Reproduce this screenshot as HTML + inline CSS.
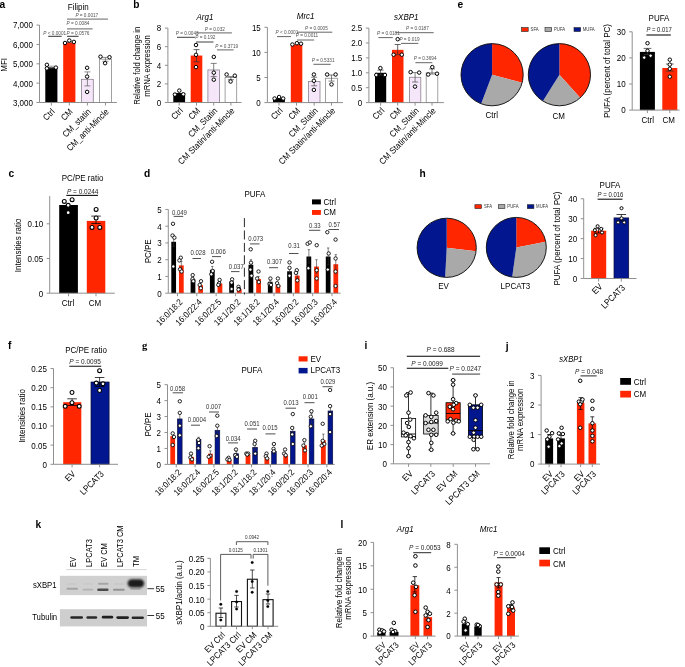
<!DOCTYPE html>
<html><head><meta charset="utf-8"><style>
html,body{margin:0;padding:0;background:#fff;overflow:hidden;}
svg{display:block;font-family:"Liberation Sans",sans-serif;will-change:transform;}
</style></head><body>
<svg width="685" height="667" viewBox="0 0 685 667">
<rect width="685" height="667" fill="#fff"/>
<text transform="translate(-0.4 8.2) scale(0.95 1)" font-size="10.74" font-weight="bold" fill="#000">a</text>
<text transform="translate(78.2 10.3) scale(0.9 1)" font-size="8.89" text-anchor="middle">Filipin</text>
<line x1="39.5" y1="25.1" x2="39.5" y2="102.5" stroke="#8a8a8a" stroke-width="0.95"/>
<line x1="36.5" y1="25.1" x2="39.5" y2="25.1" stroke="#8a8a8a" stroke-width="0.95"/>
<text transform="translate(32.9 28.46) scale(0.9 1)" font-size="8.89" text-anchor="end">7,000</text>
<line x1="36.5" y1="44.45" x2="39.5" y2="44.45" stroke="#8a8a8a" stroke-width="0.95"/>
<text transform="translate(32.9 47.81) scale(0.9 1)" font-size="8.89" text-anchor="end">6,000</text>
<line x1="36.5" y1="63.8" x2="39.5" y2="63.8" stroke="#8a8a8a" stroke-width="0.95"/>
<text transform="translate(32.9 67.16) scale(0.9 1)" font-size="8.89" text-anchor="end">5,000</text>
<line x1="36.5" y1="83.15" x2="39.5" y2="83.15" stroke="#8a8a8a" stroke-width="0.95"/>
<text transform="translate(32.9 86.51) scale(0.9 1)" font-size="8.89" text-anchor="end">4,000</text>
<line x1="36.5" y1="102.5" x2="39.5" y2="102.5" stroke="#8a8a8a" stroke-width="0.95"/>
<text transform="translate(32.9 105.86) scale(0.9 1)" font-size="8.89" text-anchor="end">3,000</text>
<text transform="translate(6.8 64.8) rotate(-90) scale(0.9 1)" font-size="8.89" text-anchor="middle">MFI</text>
<rect x="45.3" y="67.2" width="12.1" height="35.3" fill="#000"/>
<rect x="63.2" y="42.1" width="12.2" height="60.4" fill="#ff2600"/>
<rect x="81.5" y="79.3" width="11.8" height="23.2" fill="#f5e6fa" stroke="#8c7f8e" stroke-width="0.8"/>
<rect x="99.5" y="59.2" width="11.9" height="43.3" fill="#fff" stroke="#8a8a8a" stroke-width="0.8"/>
<line x1="39.5" y1="102.5" x2="116.9" y2="102.5" stroke="#8a8a8a" stroke-width="0.95"/>
<line x1="51.35" y1="102.5" x2="51.35" y2="105.5" stroke="#8a8a8a" stroke-width="0.95"/>
<line x1="69.3" y1="102.5" x2="69.3" y2="105.5" stroke="#8a8a8a" stroke-width="0.95"/>
<line x1="87.4" y1="102.5" x2="87.4" y2="105.5" stroke="#8a8a8a" stroke-width="0.95"/>
<line x1="105.45" y1="102.5" x2="105.45" y2="105.5" stroke="#8a8a8a" stroke-width="0.95"/>
<line x1="51.35" y1="66.2" x2="51.35" y2="67.8" stroke="#888" stroke-width="0.75"/>
<line x1="48.35" y1="66.2" x2="54.35" y2="66.2" stroke="#888" stroke-width="0.75"/>
<line x1="48.35" y1="67.8" x2="54.35" y2="67.8" stroke="#888" stroke-width="0.75"/>
<line x1="69.3" y1="41.3" x2="69.3" y2="42.6" stroke="#888" stroke-width="0.75"/>
<line x1="66.3" y1="41.3" x2="72.3" y2="41.3" stroke="#888" stroke-width="0.75"/>
<line x1="66.3" y1="42.6" x2="72.3" y2="42.6" stroke="#888" stroke-width="0.75"/>
<line x1="87.4" y1="71.9" x2="87.4" y2="85.9" stroke="#666" stroke-width="0.75"/>
<line x1="84.4" y1="71.9" x2="90.4" y2="71.9" stroke="#666" stroke-width="0.75"/>
<line x1="84.4" y1="85.9" x2="90.4" y2="85.9" stroke="#666" stroke-width="0.75"/>
<line x1="105.45" y1="57.4" x2="105.45" y2="61.3" stroke="#666" stroke-width="0.75"/>
<line x1="102.45" y1="57.4" x2="108.45" y2="57.4" stroke="#666" stroke-width="0.75"/>
<line x1="102.45" y1="61.3" x2="108.45" y2="61.3" stroke="#666" stroke-width="0.75"/>
<circle cx="46.9" cy="64.8" r="1.75" fill="#fff" stroke="#000" stroke-width="1.0"/>
<circle cx="46.9" cy="68.4" r="1.75" fill="#fff" stroke="#000" stroke-width="1.0"/>
<circle cx="55.9" cy="67.6" r="1.75" fill="#fff" stroke="#000" stroke-width="1.0"/>
<circle cx="65" cy="43" r="1.75" fill="#fff" stroke="#000" stroke-width="1.0"/>
<circle cx="69.3" cy="40.5" r="1.75" fill="#fff" stroke="#000" stroke-width="1.0"/>
<circle cx="73.9" cy="41.9" r="1.75" fill="#fff" stroke="#000" stroke-width="1.0"/>
<circle cx="87.1" cy="67.8" r="1.75" fill="#fff" stroke="#000" stroke-width="1.0"/>
<circle cx="87.1" cy="76.6" r="1.75" fill="#fff" stroke="#000" stroke-width="1.0"/>
<circle cx="87.1" cy="91.9" r="1.75" fill="#fff" stroke="#000" stroke-width="1.0"/>
<circle cx="100.5" cy="56.7" r="1.75" fill="#fff" stroke="#000" stroke-width="1.0"/>
<circle cx="109.5" cy="57.2" r="1.75" fill="#fff" stroke="#000" stroke-width="1.0"/>
<circle cx="105.1" cy="63.2" r="1.75" fill="#fff" stroke="#000" stroke-width="1.0"/>
<line x1="48.2" y1="36.3" x2="61.7" y2="36.3" stroke="#1a1a1a" stroke-width="0.9"/>
<text transform="translate(43.3 34.7) scale(0.9 1)" font-size="5.22" fill="#505050"><tspan font-style="italic">P</tspan> &lt; 0.0001</text>
<line x1="67" y1="36.3" x2="78.5" y2="36.3" stroke="#1a1a1a" stroke-width="0.9"/>
<text transform="translate(66.6 34.7) scale(0.9 1)" font-size="5.22" fill="#505050"><tspan font-style="italic">P</tspan> = 0.0576</text>
<line x1="67" y1="28.9" x2="92.6" y2="28.9" stroke="#555" stroke-width="0.9"/>
<text transform="translate(66.6 24.9) scale(0.9 1)" font-size="5.22" fill="#505050"><tspan font-style="italic">P</tspan> = 0.0084</text>
<line x1="67" y1="19.1" x2="108" y2="19.1" stroke="#555" stroke-width="0.9"/>
<text transform="translate(75.4 17.1) scale(0.9 1)" font-size="5.22" fill="#505050"><tspan font-style="italic">P</tspan> = 0.0017</text>
<text transform="translate(55.35 112.3) rotate(-45) scale(0.9 1)" font-size="8.89" text-anchor="end">Ctrl</text>
<text transform="translate(73.3 112.3) rotate(-45) scale(0.9 1)" font-size="8.89" text-anchor="end">CM</text>
<text transform="translate(91.4 112.3) rotate(-45) scale(0.9 1)" font-size="8.89" text-anchor="end">CM_statin</text>
<text transform="translate(109.45 112.3) rotate(-45) scale(0.9 1)" font-size="8.89" text-anchor="end">CM_anti-Mincle</text>
<text transform="translate(133.2 7.8) scale(0.95 1)" font-size="10.74" font-weight="bold" fill="#000">b</text>
<text transform="translate(204.9 19.8) scale(0.9 1)" font-size="8.89" text-anchor="middle" font-style="italic">Arg1</text>
<line x1="167.9" y1="28.1" x2="167.9" y2="102.5" stroke="#8a8a8a" stroke-width="0.95"/>
<line x1="164.9" y1="28.1" x2="167.9" y2="28.1" stroke="#8a8a8a" stroke-width="0.95"/>
<text transform="translate(161.3 31.46) scale(0.9 1)" font-size="8.89" text-anchor="end">8</text>
<line x1="164.9" y1="46.7" x2="167.9" y2="46.7" stroke="#8a8a8a" stroke-width="0.95"/>
<text transform="translate(161.3 50.06) scale(0.9 1)" font-size="8.89" text-anchor="end">6</text>
<line x1="164.9" y1="65.3" x2="167.9" y2="65.3" stroke="#8a8a8a" stroke-width="0.95"/>
<text transform="translate(161.3 68.66) scale(0.9 1)" font-size="8.89" text-anchor="end">4</text>
<line x1="164.9" y1="83.9" x2="167.9" y2="83.9" stroke="#8a8a8a" stroke-width="0.95"/>
<text transform="translate(161.3 87.26) scale(0.9 1)" font-size="8.89" text-anchor="end">2</text>
<line x1="164.9" y1="102.5" x2="167.9" y2="102.5" stroke="#8a8a8a" stroke-width="0.95"/>
<text transform="translate(161.3 105.86) scale(0.9 1)" font-size="8.89" text-anchor="end">0</text>
<text transform="translate(139.6 65.7) rotate(-90) scale(0.9 1)" font-size="8.58" text-anchor="middle">Relative fold change in</text>
<text transform="translate(149.9 66) rotate(-90) scale(0.9 1)" font-size="8.56" text-anchor="middle">mRNA expression</text>
<rect x="173.3" y="92.92" width="11.8" height="9.58" fill="#000"/>
<rect x="190.7" y="55.53" width="11.6" height="46.97" fill="#ff2600"/>
<rect x="207.9" y="69.95" width="11.6" height="32.55" fill="#f5e6fa" stroke="#8c7f8e" stroke-width="0.8"/>
<rect x="225.1" y="77.39" width="11.6" height="25.11" fill="#fff" stroke="#8a8a8a" stroke-width="0.8"/>
<line x1="167.9" y1="102.5" x2="241.5" y2="102.5" stroke="#8a8a8a" stroke-width="0.95"/>
<line x1="179.2" y1="102.5" x2="179.2" y2="105.5" stroke="#8a8a8a" stroke-width="0.95"/>
<line x1="196.5" y1="102.5" x2="196.5" y2="105.5" stroke="#8a8a8a" stroke-width="0.95"/>
<line x1="213.7" y1="102.5" x2="213.7" y2="105.5" stroke="#8a8a8a" stroke-width="0.95"/>
<line x1="230.9" y1="102.5" x2="230.9" y2="105.5" stroke="#8a8a8a" stroke-width="0.95"/>
<line x1="196.5" y1="49.6" x2="196.5" y2="61.8" stroke="#333" stroke-width="0.75"/>
<line x1="193.5" y1="49.6" x2="199.5" y2="49.6" stroke="#333" stroke-width="0.75"/>
<line x1="193.5" y1="61.8" x2="199.5" y2="61.8" stroke="#333" stroke-width="0.75"/>
<line x1="213.7" y1="63.4" x2="213.7" y2="76.6" stroke="#555" stroke-width="0.75"/>
<line x1="210.7" y1="63.4" x2="216.7" y2="63.4" stroke="#555" stroke-width="0.75"/>
<line x1="210.7" y1="76.6" x2="216.7" y2="76.6" stroke="#555" stroke-width="0.75"/>
<line x1="230.9" y1="76.6" x2="230.9" y2="79.7" stroke="#555" stroke-width="0.75"/>
<line x1="227.9" y1="76.6" x2="233.9" y2="76.6" stroke="#555" stroke-width="0.75"/>
<line x1="227.9" y1="79.7" x2="233.9" y2="79.7" stroke="#555" stroke-width="0.75"/>
<circle cx="174.9" cy="94.6" r="1.75" fill="#fff" stroke="#000" stroke-width="1.0"/>
<circle cx="179.3" cy="90.6" r="1.75" fill="#fff" stroke="#000" stroke-width="1.0"/>
<circle cx="183.3" cy="94.3" r="1.75" fill="#fff" stroke="#000" stroke-width="1.0"/>
<circle cx="196" cy="45" r="1.75" fill="#fff" stroke="#000" stroke-width="1.0"/>
<circle cx="196" cy="54.8" r="1.75" fill="#fff" stroke="#000" stroke-width="1.0"/>
<circle cx="196" cy="67.1" r="1.75" fill="#fff" stroke="#000" stroke-width="1.0"/>
<circle cx="213.8" cy="56.9" r="1.75" fill="#fff" stroke="#000" stroke-width="1.0"/>
<circle cx="213.8" cy="72.7" r="1.75" fill="#fff" stroke="#000" stroke-width="1.0"/>
<circle cx="213.8" cy="79.7" r="1.75" fill="#fff" stroke="#000" stroke-width="1.0"/>
<circle cx="226.6" cy="74.5" r="1.75" fill="#fff" stroke="#000" stroke-width="1.0"/>
<circle cx="230.6" cy="81.5" r="1.75" fill="#fff" stroke="#000" stroke-width="1.0"/>
<circle cx="234.8" cy="75.7" r="1.75" fill="#fff" stroke="#000" stroke-width="1.0"/>
<line x1="177" y1="37.3" x2="195" y2="37.3" stroke="#2a2a2a" stroke-width="0.9"/>
<text transform="translate(175.8 34.9) scale(0.9 1)" font-size="5.22" fill="#505050"><tspan font-style="italic">P</tspan> = 0.0043</text>
<line x1="196" y1="32.9" x2="231.9" y2="32.9" stroke="#555" stroke-width="0.9"/>
<text transform="translate(204.7 30.6) scale(0.9 1)" font-size="5.22" fill="#505050"><tspan font-style="italic">P</tspan> = 0.032</text>
<line x1="196" y1="42" x2="213.5" y2="42" stroke="#2a2a2a" stroke-width="0.9"/>
<text transform="translate(195.2 39.4) scale(0.9 1)" font-size="5.22" fill="#505050"><tspan font-style="italic">P</tspan> = 0.192</text>
<line x1="217" y1="49.9" x2="233.6" y2="49.9" stroke="#555" stroke-width="0.9"/>
<text transform="translate(215.3 47.6) scale(0.9 1)" font-size="5.22" fill="#505050"><tspan font-style="italic">P</tspan> = 0.3719</text>
<text transform="translate(183.5 111.3) rotate(-45) scale(0.9 1)" font-size="8.89" text-anchor="end">Ctrl</text>
<text transform="translate(200.8 111.3) rotate(-45) scale(0.9 1)" font-size="8.89" text-anchor="end">CM</text>
<text transform="translate(218 111.3) rotate(-45) scale(0.9 1)" font-size="8.89" text-anchor="end">CM_Statin</text>
<text transform="translate(235.2 111.3) rotate(-45) scale(0.9 1)" font-size="8.89" text-anchor="end">CM Statin/anti-Mincle</text>
<text transform="translate(305.6 19) scale(0.9 1)" font-size="8.89" text-anchor="middle" font-style="italic">Mrc1</text>
<line x1="267.4" y1="27.3" x2="267.4" y2="102.6" stroke="#8a8a8a" stroke-width="0.95"/>
<line x1="264.4" y1="27.3" x2="267.4" y2="27.3" stroke="#8a8a8a" stroke-width="0.95"/>
<text transform="translate(260.8 30.66) scale(0.9 1)" font-size="8.89" text-anchor="end">15</text>
<line x1="264.4" y1="52.4" x2="267.4" y2="52.4" stroke="#8a8a8a" stroke-width="0.95"/>
<text transform="translate(260.8 55.76) scale(0.9 1)" font-size="8.89" text-anchor="end">10</text>
<line x1="264.4" y1="77.5" x2="267.4" y2="77.5" stroke="#8a8a8a" stroke-width="0.95"/>
<text transform="translate(260.8 80.86) scale(0.9 1)" font-size="8.89" text-anchor="end">5</text>
<line x1="264.4" y1="102.6" x2="267.4" y2="102.6" stroke="#8a8a8a" stroke-width="0.95"/>
<text transform="translate(260.8 105.96) scale(0.9 1)" font-size="8.89" text-anchor="end">0</text>
<rect x="273" y="98.08" width="11.9" height="4.52" fill="#000"/>
<rect x="290.8" y="44.37" width="11.5" height="58.23" fill="#ff2600"/>
<rect x="308.5" y="81.52" width="11.5" height="21.08" fill="#f5e6fa" stroke="#8c7f8e" stroke-width="0.8"/>
<rect x="325.5" y="78.25" width="12" height="24.35" fill="#fff" stroke="#8a8a8a" stroke-width="0.8"/>
<line x1="267.4" y1="102.6" x2="343" y2="102.6" stroke="#8a8a8a" stroke-width="0.95"/>
<line x1="279" y1="102.6" x2="279" y2="105.6" stroke="#8a8a8a" stroke-width="0.95"/>
<line x1="296.5" y1="102.6" x2="296.5" y2="105.6" stroke="#8a8a8a" stroke-width="0.95"/>
<line x1="314.2" y1="102.6" x2="314.2" y2="105.6" stroke="#8a8a8a" stroke-width="0.95"/>
<line x1="331.5" y1="102.6" x2="331.5" y2="105.6" stroke="#8a8a8a" stroke-width="0.95"/>
<line x1="314.2" y1="77.2" x2="314.2" y2="85.8" stroke="#555" stroke-width="0.75"/>
<line x1="311.2" y1="77.2" x2="317.2" y2="77.2" stroke="#555" stroke-width="0.75"/>
<line x1="311.2" y1="85.8" x2="317.2" y2="85.8" stroke="#555" stroke-width="0.75"/>
<line x1="331.5" y1="75" x2="331.5" y2="81.1" stroke="#555" stroke-width="0.75"/>
<line x1="328.5" y1="75" x2="334.5" y2="75" stroke="#555" stroke-width="0.75"/>
<line x1="328.5" y1="81.1" x2="334.5" y2="81.1" stroke="#555" stroke-width="0.75"/>
<circle cx="274.6" cy="98.5" r="1.75" fill="#fff" stroke="#000" stroke-width="1.0"/>
<circle cx="279.1" cy="97" r="1.75" fill="#fff" stroke="#000" stroke-width="1.0"/>
<circle cx="283.2" cy="98.5" r="1.75" fill="#fff" stroke="#000" stroke-width="1.0"/>
<circle cx="292.4" cy="44.5" r="1.75" fill="#fff" stroke="#000" stroke-width="1.0"/>
<circle cx="296.9" cy="43.2" r="1.75" fill="#fff" stroke="#000" stroke-width="1.0"/>
<circle cx="301" cy="43.7" r="1.75" fill="#fff" stroke="#000" stroke-width="1.0"/>
<circle cx="313.9" cy="74.5" r="1.75" fill="#fff" stroke="#000" stroke-width="1.0"/>
<circle cx="313.9" cy="80.8" r="1.75" fill="#fff" stroke="#000" stroke-width="1.0"/>
<circle cx="313.9" cy="89.9" r="1.75" fill="#fff" stroke="#000" stroke-width="1.0"/>
<circle cx="327.1" cy="74.5" r="1.75" fill="#fff" stroke="#000" stroke-width="1.0"/>
<circle cx="335.6" cy="74.5" r="1.75" fill="#fff" stroke="#000" stroke-width="1.0"/>
<circle cx="331.5" cy="84.4" r="1.75" fill="#fff" stroke="#000" stroke-width="1.0"/>
<line x1="277" y1="36.6" x2="291" y2="36.6" stroke="#555" stroke-width="0.9"/>
<text transform="translate(275.5 34.4) scale(0.9 1)" font-size="5.22" fill="#505050"><tspan font-style="italic">P</tspan> &lt; 0.0001</text>
<line x1="297" y1="32.2" x2="332.3" y2="32.2" stroke="#555" stroke-width="0.9"/>
<text transform="translate(305 29.9) scale(0.9 1)" font-size="5.22" fill="#505050"><tspan font-style="italic">P</tspan> = 0.0005</text>
<line x1="297" y1="40" x2="314.2" y2="40" stroke="#555" stroke-width="0.9"/>
<text transform="translate(295.7 37.4) scale(0.9 1)" font-size="5.22" fill="#505050"><tspan font-style="italic">P</tspan> = 0.0011</text>
<line x1="313.4" y1="64.3" x2="330.7" y2="64.3" stroke="#555" stroke-width="0.9"/>
<text transform="translate(311.7 62) scale(0.9 1)" font-size="5.22" fill="#505050"><tspan font-style="italic">P</tspan> = 0.5331</text>
<text transform="translate(283.3 111.3) rotate(-45) scale(0.9 1)" font-size="8.89" text-anchor="end">Ctrl</text>
<text transform="translate(300.8 111.3) rotate(-45) scale(0.9 1)" font-size="8.89" text-anchor="end">CM</text>
<text transform="translate(318.5 111.3) rotate(-45) scale(0.9 1)" font-size="8.89" text-anchor="end">CM_Statin</text>
<text transform="translate(335.8 111.3) rotate(-45) scale(0.9 1)" font-size="8.89" text-anchor="end">CM Statin/anti-Mincle</text>
<text transform="translate(406.3 19.6) scale(0.9 1)" font-size="8.89" text-anchor="middle" font-style="italic">sXBP1</text>
<line x1="368.9" y1="28.1" x2="368.9" y2="102.6" stroke="#8a8a8a" stroke-width="0.95"/>
<line x1="365.9" y1="28.1" x2="368.9" y2="28.1" stroke="#8a8a8a" stroke-width="0.95"/>
<text transform="translate(362.3 31.46) scale(0.9 1)" font-size="8.89" text-anchor="end">2.5</text>
<line x1="365.9" y1="43" x2="368.9" y2="43" stroke="#8a8a8a" stroke-width="0.95"/>
<text transform="translate(362.3 46.36) scale(0.9 1)" font-size="8.89" text-anchor="end">2.0</text>
<line x1="365.9" y1="57.9" x2="368.9" y2="57.9" stroke="#8a8a8a" stroke-width="0.95"/>
<text transform="translate(362.3 61.26) scale(0.9 1)" font-size="8.89" text-anchor="end">1.5</text>
<line x1="365.9" y1="72.8" x2="368.9" y2="72.8" stroke="#8a8a8a" stroke-width="0.95"/>
<text transform="translate(362.3 76.16) scale(0.9 1)" font-size="8.89" text-anchor="end">1.0</text>
<line x1="365.9" y1="87.7" x2="368.9" y2="87.7" stroke="#8a8a8a" stroke-width="0.95"/>
<text transform="translate(362.3 91.06) scale(0.9 1)" font-size="8.89" text-anchor="end">0.5</text>
<line x1="365.9" y1="102.6" x2="368.9" y2="102.6" stroke="#8a8a8a" stroke-width="0.95"/>
<text transform="translate(362.3 105.96) scale(0.9 1)" font-size="8.89" text-anchor="end">0</text>
<rect x="375" y="72.8" width="11.2" height="29.8" fill="#000"/>
<rect x="392" y="49.85" width="11.5" height="52.75" fill="#ff2600"/>
<rect x="409.4" y="77.27" width="11.4" height="25.33" fill="#f5e6fa" stroke="#8c7f8e" stroke-width="0.8"/>
<rect x="426.2" y="72.8" width="11.6" height="29.8" fill="#fff" stroke="#8a8a8a" stroke-width="0.8"/>
<line x1="368.9" y1="102.6" x2="443.9" y2="102.6" stroke="#8a8a8a" stroke-width="0.95"/>
<line x1="380.6" y1="102.6" x2="380.6" y2="105.6" stroke="#8a8a8a" stroke-width="0.95"/>
<line x1="397.7" y1="102.6" x2="397.7" y2="105.6" stroke="#8a8a8a" stroke-width="0.95"/>
<line x1="415.1" y1="102.6" x2="415.1" y2="105.6" stroke="#8a8a8a" stroke-width="0.95"/>
<line x1="432" y1="102.6" x2="432" y2="105.6" stroke="#8a8a8a" stroke-width="0.95"/>
<line x1="380.6" y1="70.1" x2="380.6" y2="75" stroke="#333" stroke-width="0.75"/>
<line x1="377.6" y1="70.1" x2="383.6" y2="70.1" stroke="#333" stroke-width="0.75"/>
<line x1="377.6" y1="75" x2="383.6" y2="75" stroke="#333" stroke-width="0.75"/>
<line x1="397.7" y1="44.5" x2="397.7" y2="54.7" stroke="#333" stroke-width="0.75"/>
<line x1="394.7" y1="44.5" x2="400.7" y2="44.5" stroke="#333" stroke-width="0.75"/>
<line x1="394.7" y1="54.7" x2="400.7" y2="54.7" stroke="#333" stroke-width="0.75"/>
<line x1="415.1" y1="72.6" x2="415.1" y2="82" stroke="#555" stroke-width="0.75"/>
<line x1="412.1" y1="72.6" x2="418.1" y2="72.6" stroke="#555" stroke-width="0.75"/>
<line x1="412.1" y1="82" x2="418.1" y2="82" stroke="#555" stroke-width="0.75"/>
<line x1="432" y1="68.9" x2="432" y2="74" stroke="#555" stroke-width="0.75"/>
<line x1="429" y1="68.9" x2="435" y2="68.9" stroke="#555" stroke-width="0.75"/>
<line x1="429" y1="74" x2="435" y2="74" stroke="#555" stroke-width="0.75"/>
<circle cx="380.4" cy="68.1" r="1.75" fill="#fff" stroke="#000" stroke-width="1.0"/>
<circle cx="376.3" cy="75" r="1.75" fill="#fff" stroke="#000" stroke-width="1.0"/>
<circle cx="384.9" cy="75" r="1.75" fill="#fff" stroke="#000" stroke-width="1.0"/>
<circle cx="397.7" cy="39.2" r="1.75" fill="#fff" stroke="#000" stroke-width="1.0"/>
<circle cx="393.6" cy="54.7" r="1.75" fill="#fff" stroke="#000" stroke-width="1.0"/>
<circle cx="401.8" cy="54.7" r="1.75" fill="#fff" stroke="#000" stroke-width="1.0"/>
<circle cx="410.6" cy="72.1" r="1.75" fill="#fff" stroke="#000" stroke-width="1.0"/>
<circle cx="419.2" cy="72.6" r="1.75" fill="#fff" stroke="#000" stroke-width="1.0"/>
<circle cx="415" cy="86.6" r="1.75" fill="#fff" stroke="#000" stroke-width="1.0"/>
<circle cx="432.3" cy="67.1" r="1.75" fill="#fff" stroke="#000" stroke-width="1.0"/>
<circle cx="428.2" cy="74.5" r="1.75" fill="#fff" stroke="#000" stroke-width="1.0"/>
<circle cx="437" cy="73.7" r="1.75" fill="#fff" stroke="#000" stroke-width="1.0"/>
<line x1="378.4" y1="37.6" x2="392.8" y2="37.6" stroke="#555" stroke-width="0.9"/>
<text transform="translate(377 35) scale(0.9 1)" font-size="5.22" fill="#505050"><tspan font-style="italic">P</tspan> = 0.0181</text>
<line x1="396" y1="32.7" x2="433.7" y2="32.7" stroke="#555" stroke-width="0.9"/>
<text transform="translate(406 30.4) scale(0.9 1)" font-size="5.22" fill="#505050"><tspan font-style="italic">P</tspan> = 0.0187</text>
<line x1="401" y1="43.4" x2="418.3" y2="43.4" stroke="#555" stroke-width="0.9"/>
<text transform="translate(399.4 40.9) scale(0.9 1)" font-size="5.22" fill="#505050"><tspan font-style="italic">P</tspan> = 0.019</text>
<line x1="415.4" y1="62.7" x2="432.3" y2="62.7" stroke="#555" stroke-width="0.9"/>
<text transform="translate(413.7 60.1) scale(0.9 1)" font-size="5.22" fill="#505050"><tspan font-style="italic">P</tspan> = 0.3694</text>
<text transform="translate(384.9 111.3) rotate(-45) scale(0.9 1)" font-size="8.89" text-anchor="end">Ctrl</text>
<text transform="translate(402 111.3) rotate(-45) scale(0.9 1)" font-size="8.89" text-anchor="end">CM</text>
<text transform="translate(419.4 111.3) rotate(-45) scale(0.9 1)" font-size="8.89" text-anchor="end">CM_Statin</text>
<text transform="translate(436.3 111.3) rotate(-45) scale(0.9 1)" font-size="8.89" text-anchor="end">CM Statin/anti-Mincle</text>
<text transform="translate(457.4 8.1) scale(0.95 1)" font-size="10.74" font-weight="bold" fill="#000">e</text>
<rect x="521.6" y="27.6" width="6.6" height="3.9" fill="#ff2600" stroke="#222" stroke-width="0.6"/>
<text transform="translate(530.6 31.2) scale(0.9 1)" font-size="4.78" fill="#333">SFA</text>
<rect x="545" y="27.6" width="6.6" height="3.9" fill="#a9a9a9" stroke="#222" stroke-width="0.6"/>
<text transform="translate(554 31.2) scale(0.9 1)" font-size="4.78" fill="#333">PUFA</text>
<rect x="574" y="27.6" width="6.6" height="3.9" fill="#02168f" stroke="#222" stroke-width="0.6"/>
<text transform="translate(582.8 31.2) scale(0.9 1)" font-size="4.78" fill="#333">MUFA</text>
<path d="M492.1,74.7 L492.1,43.6 A31.1,31.1 0 0 1 522.14,82.75 Z" fill="#ff2600"/>
<path d="M492.1,74.7 L522.14,82.75 A31.1,31.1 0 0 1 481.16,103.81 Z" fill="#a9a9a9"/>
<path d="M492.1,74.7 L481.16,103.81 A31.1,31.1 0 0 1 492.1,43.6 Z" fill="#02168f"/>
<circle cx="492.1" cy="74.7" r="31.1" fill="none" stroke="#111" stroke-width="0.95"/>
<path d="M559.4,74.7 L559.4,43.6 A31.1,31.1 0 0 1 580.21,97.81 Z" fill="#ff2600"/>
<path d="M559.4,74.7 L580.21,97.81 A31.1,31.1 0 0 1 542.92,101.07 Z" fill="#a9a9a9"/>
<path d="M559.4,74.7 L542.92,101.07 A31.1,31.1 0 0 1 559.4,43.6 Z" fill="#02168f"/>
<circle cx="559.4" cy="74.7" r="31.1" fill="none" stroke="#111" stroke-width="0.95"/>
<text transform="translate(491.8 118.4) scale(0.9 1)" font-size="8.89" text-anchor="middle">Ctrl</text>
<text transform="translate(558.6 118.8) scale(0.9 1)" font-size="8.89" text-anchor="middle">CM</text>
<text transform="translate(659 21) scale(0.9 1)" font-size="8.89" text-anchor="middle">PUFA</text>
<line x1="632.2" y1="31.8" x2="632.2" y2="110.1" stroke="#8a8a8a" stroke-width="0.95"/>
<line x1="629.2" y1="31.8" x2="632.2" y2="31.8" stroke="#8a8a8a" stroke-width="0.95"/>
<text transform="translate(625.6 35.16) scale(0.9 1)" font-size="8.89" text-anchor="end">30</text>
<line x1="629.2" y1="57.9" x2="632.2" y2="57.9" stroke="#8a8a8a" stroke-width="0.95"/>
<text transform="translate(625.6 61.26) scale(0.9 1)" font-size="8.89" text-anchor="end">20</text>
<line x1="629.2" y1="84" x2="632.2" y2="84" stroke="#8a8a8a" stroke-width="0.95"/>
<text transform="translate(625.6 87.36) scale(0.9 1)" font-size="8.89" text-anchor="end">10</text>
<line x1="629.2" y1="110.1" x2="632.2" y2="110.1" stroke="#8a8a8a" stroke-width="0.95"/>
<text transform="translate(625.6 113.46) scale(0.9 1)" font-size="8.89" text-anchor="end">0</text>
<text transform="translate(609.8 71) rotate(-90) scale(0.9 1)" font-size="8.89" text-anchor="middle">PUFA (percent of total PC)</text>
<rect x="639.9" y="51.9" width="15" height="58.2" fill="#000"/>
<rect x="662.3" y="68" width="15" height="42.1" fill="#ff2600"/>
<line x1="632.2" y1="110.1" x2="679.5" y2="110.1" stroke="#8a8a8a" stroke-width="0.95"/>
<line x1="647.4" y1="110.1" x2="647.4" y2="113.1" stroke="#8a8a8a" stroke-width="0.95"/>
<line x1="669.8" y1="110.1" x2="669.8" y2="113.1" stroke="#8a8a8a" stroke-width="0.95"/>
<line x1="647.5" y1="48.4" x2="647.5" y2="54.5" stroke="#333" stroke-width="0.75"/>
<line x1="643.6" y1="48.4" x2="651.4" y2="48.4" stroke="#333" stroke-width="0.75"/>
<line x1="643.6" y1="54.5" x2="651.4" y2="54.5" stroke="#333" stroke-width="0.75"/>
<line x1="669.8" y1="64" x2="669.8" y2="71.1" stroke="#333" stroke-width="0.75"/>
<line x1="665.9" y1="64" x2="673.7" y2="64" stroke="#333" stroke-width="0.75"/>
<line x1="665.9" y1="71.1" x2="673.7" y2="71.1" stroke="#333" stroke-width="0.75"/>
<circle cx="647.5" cy="43.2" r="1.75" fill="#fff" stroke="#000" stroke-width="1.0"/>
<circle cx="644.2" cy="57.6" r="1.75" fill="#fff" stroke="#000" stroke-width="1.0"/>
<circle cx="650.6" cy="55.7" r="1.75" fill="#fff" stroke="#000" stroke-width="1.0"/>
<circle cx="647.5" cy="50.8" r="1.75" fill="#fff" stroke="#000" stroke-width="1.0"/>
<circle cx="669.8" cy="59.7" r="1.75" fill="#fff" stroke="#000" stroke-width="1.0"/>
<circle cx="669.8" cy="64.6" r="1.75" fill="#fff" stroke="#000" stroke-width="1.0"/>
<circle cx="669.8" cy="68.8" r="1.75" fill="#fff" stroke="#000" stroke-width="1.0"/>
<circle cx="669.8" cy="76.7" r="1.75" fill="#fff" stroke="#000" stroke-width="1.0"/>
<line x1="646.4" y1="35" x2="670.8" y2="35" stroke="#111" stroke-width="1.1"/>
<text transform="translate(646.4 32.4) scale(0.9 1)" font-size="6.56" fill="#222"><tspan font-style="italic">P</tspan> = 0.017</text>
<text transform="translate(647.7 122.5) scale(0.9 1)" font-size="8.89" text-anchor="middle">Ctrl</text>
<text transform="translate(668.6 122.5) scale(0.9 1)" font-size="8.89" text-anchor="middle">CM</text>
<text transform="translate(8.5 176.8) scale(0.95 1)" font-size="10.74" font-weight="bold" fill="#000">c</text>
<text transform="translate(82.5 181.4) scale(0.9 1)" font-size="8.89" text-anchor="middle">PC/PE ratio</text>
<line x1="49.7" y1="196.04" x2="49.7" y2="293.2" stroke="#8a8a8a" stroke-width="0.95"/>
<line x1="46.7" y1="223.8" x2="49.7" y2="223.8" stroke="#8a8a8a" stroke-width="0.95"/>
<text transform="translate(43.1 227.16) scale(0.9 1)" font-size="8.89" text-anchor="end">0.10</text>
<line x1="46.7" y1="258.5" x2="49.7" y2="258.5" stroke="#8a8a8a" stroke-width="0.95"/>
<text transform="translate(43.1 261.86) scale(0.9 1)" font-size="8.89" text-anchor="end">0.05</text>
<line x1="46.7" y1="293.2" x2="49.7" y2="293.2" stroke="#8a8a8a" stroke-width="0.95"/>
<text transform="translate(43.1 296.56) scale(0.9 1)" font-size="8.89" text-anchor="end">0</text>
<text transform="translate(21.2 245.4) rotate(-90) scale(0.9 1)" font-size="8.89" text-anchor="middle">Intensities ratio</text>
<rect x="59.2" y="205" width="18.7" height="88.2" fill="#000"/>
<rect x="86.8" y="220.9" width="18.5" height="72.3" fill="#ff2600"/>
<line x1="49.7" y1="293.2" x2="114.8" y2="293.2" stroke="#8a8a8a" stroke-width="0.95"/>
<line x1="68.5" y1="293.2" x2="68.5" y2="296.2" stroke="#8a8a8a" stroke-width="0.95"/>
<line x1="96" y1="293.2" x2="96" y2="296.2" stroke="#8a8a8a" stroke-width="0.95"/>
<line x1="96" y1="216.1" x2="96" y2="223.5" stroke="#000" stroke-width="0.75"/>
<line x1="91.2" y1="216.1" x2="100.8" y2="216.1" stroke="#000" stroke-width="0.75"/>
<line x1="91.2" y1="223.5" x2="100.8" y2="223.5" stroke="#000" stroke-width="0.75"/>
<circle cx="64.3" cy="201.4" r="1.95" fill="#fff" stroke="#000" stroke-width="1.1"/>
<circle cx="72.1" cy="199.7" r="1.95" fill="#fff" stroke="#000" stroke-width="1.1"/>
<circle cx="68.2" cy="205.3" r="1.95" fill="#fff" stroke="#000" stroke-width="1.1"/>
<circle cx="68.2" cy="212.7" r="1.95" fill="#fff" stroke="#000" stroke-width="1.1"/>
<circle cx="96.1" cy="209.4" r="1.95" fill="#fff" stroke="#000" stroke-width="1.1"/>
<circle cx="96.1" cy="218" r="1.95" fill="#fff" stroke="#000" stroke-width="1.1"/>
<circle cx="92" cy="227.4" r="1.95" fill="#fff" stroke="#000" stroke-width="1.1"/>
<circle cx="99.8" cy="227.4" r="1.95" fill="#fff" stroke="#000" stroke-width="1.1"/>
<line x1="66.3" y1="195.4" x2="98" y2="195.4" stroke="#111" stroke-width="1.1"/>
<text transform="translate(66.9 193.7) scale(0.9 1)" font-size="7.22" fill="#222"><tspan font-style="italic">P</tspan> = 0.0244</text>
<text transform="translate(68 306.2) scale(0.9 1)" font-size="8.89" text-anchor="middle">Ctrl</text>
<text transform="translate(95 306.2) scale(0.9 1)" font-size="8.89" text-anchor="middle">CM</text>
<text transform="translate(144 176.6) scale(0.95 1)" font-size="10.74" font-weight="bold" fill="#000">d</text>
<text transform="translate(254.8 196.5) scale(0.9 1)" font-size="8.89" text-anchor="middle">PUFA</text>
<line x1="168.3" y1="209.45" x2="168.3" y2="293.2" stroke="#8a8a8a" stroke-width="0.95"/>
<line x1="165.3" y1="209.45" x2="168.3" y2="209.45" stroke="#8a8a8a" stroke-width="0.95"/>
<text transform="translate(161.7 212.81) scale(0.9 1)" font-size="8.89" text-anchor="end">5</text>
<line x1="165.3" y1="226.2" x2="168.3" y2="226.2" stroke="#8a8a8a" stroke-width="0.95"/>
<text transform="translate(161.7 229.56) scale(0.9 1)" font-size="8.89" text-anchor="end">4</text>
<line x1="165.3" y1="242.95" x2="168.3" y2="242.95" stroke="#8a8a8a" stroke-width="0.95"/>
<text transform="translate(161.7 246.31) scale(0.9 1)" font-size="8.89" text-anchor="end">3</text>
<line x1="165.3" y1="259.7" x2="168.3" y2="259.7" stroke="#8a8a8a" stroke-width="0.95"/>
<text transform="translate(161.7 263.06) scale(0.9 1)" font-size="8.89" text-anchor="end">2</text>
<line x1="165.3" y1="276.45" x2="168.3" y2="276.45" stroke="#8a8a8a" stroke-width="0.95"/>
<text transform="translate(161.7 279.81) scale(0.9 1)" font-size="8.89" text-anchor="end">1</text>
<line x1="165.3" y1="293.2" x2="168.3" y2="293.2" stroke="#8a8a8a" stroke-width="0.95"/>
<text transform="translate(161.7 296.56) scale(0.9 1)" font-size="8.89" text-anchor="end">0</text>
<text transform="translate(151 251.4) rotate(-90) scale(0.9 1)" font-size="8.89" text-anchor="middle">PC/PE</text>
<rect x="312" y="199.4" width="8.9" height="5" fill="#000"/>
<text transform="translate(323.6 204.6) scale(0.9 1)" font-size="8.89">Ctrl</text>
<rect x="312" y="210" width="8.9" height="4.9" fill="#ff2600"/>
<text transform="translate(323.6 215.2) scale(0.9 1)" font-size="8.89">CM</text>
<rect x="171.3" y="241.78" width="4.75" height="51.42" fill="#000"/>
<rect x="178.95" y="265.39" width="4.75" height="27.81" fill="#ff2600"/>
<rect x="190.61" y="279.3" width="4.75" height="13.9" fill="#000"/>
<rect x="198.26" y="285.16" width="4.75" height="8.04" fill="#ff2600"/>
<rect x="209.92" y="269.75" width="4.75" height="23.45" fill="#000"/>
<rect x="217.57" y="283.49" width="4.75" height="9.71" fill="#ff2600"/>
<rect x="229.23" y="281.47" width="4.75" height="11.73" fill="#000"/>
<rect x="236.88" y="289.18" width="4.75" height="4.02" fill="#ff2600"/>
<rect x="248.54" y="264.72" width="4.75" height="28.48" fill="#000"/>
<rect x="256.19" y="278.96" width="4.75" height="14.24" fill="#ff2600"/>
<rect x="267.85" y="281.81" width="4.75" height="11.39" fill="#000"/>
<rect x="275.5" y="285.16" width="4.75" height="8.04" fill="#ff2600"/>
<rect x="287.16" y="271.26" width="4.75" height="21.94" fill="#000"/>
<rect x="294.81" y="275.61" width="4.75" height="17.59" fill="#ff2600"/>
<rect x="306.47" y="256.52" width="4.75" height="36.68" fill="#000"/>
<rect x="314.12" y="266.57" width="4.75" height="26.63" fill="#ff2600"/>
<rect x="325.78" y="256.52" width="4.75" height="36.68" fill="#000"/>
<rect x="333.43" y="264.22" width="4.75" height="28.98" fill="#ff2600"/>
<line x1="168.3" y1="293.2" x2="340.6" y2="293.2" stroke="#8a8a8a" stroke-width="0.95"/>
<line x1="177.5" y1="293.2" x2="177.5" y2="296.2" stroke="#8a8a8a" stroke-width="0.95"/>
<line x1="196.81" y1="293.2" x2="196.81" y2="296.2" stroke="#8a8a8a" stroke-width="0.95"/>
<line x1="216.12" y1="293.2" x2="216.12" y2="296.2" stroke="#8a8a8a" stroke-width="0.95"/>
<line x1="235.43" y1="293.2" x2="235.43" y2="296.2" stroke="#8a8a8a" stroke-width="0.95"/>
<line x1="254.74" y1="293.2" x2="254.74" y2="296.2" stroke="#8a8a8a" stroke-width="0.95"/>
<line x1="274.05" y1="293.2" x2="274.05" y2="296.2" stroke="#8a8a8a" stroke-width="0.95"/>
<line x1="293.36" y1="293.2" x2="293.36" y2="296.2" stroke="#8a8a8a" stroke-width="0.95"/>
<line x1="312.67" y1="293.2" x2="312.67" y2="296.2" stroke="#8a8a8a" stroke-width="0.95"/>
<line x1="331.98" y1="293.2" x2="331.98" y2="296.2" stroke="#8a8a8a" stroke-width="0.95"/>
<line x1="244.4" y1="218.1" x2="244.4" y2="294.5" stroke="#000" stroke-width="0.85" stroke-dasharray="9,3.4"/>
<line x1="173.7" y1="235.41" x2="173.7" y2="246.3" stroke="#333" stroke-width="0.6"/>
<line x1="172.5" y1="235.41" x2="174.9" y2="235.41" stroke="#333" stroke-width="0.6"/>
<line x1="172.5" y1="246.3" x2="174.9" y2="246.3" stroke="#333" stroke-width="0.6"/>
<line x1="181.3" y1="261.38" x2="181.3" y2="268.91" stroke="#333" stroke-width="0.6"/>
<line x1="180.1" y1="261.38" x2="182.5" y2="261.38" stroke="#333" stroke-width="0.6"/>
<line x1="180.1" y1="268.91" x2="182.5" y2="268.91" stroke="#333" stroke-width="0.6"/>
<line x1="193.01" y1="278.12" x2="193.01" y2="280.64" stroke="#333" stroke-width="0.6"/>
<line x1="191.81" y1="278.12" x2="194.21" y2="278.12" stroke="#333" stroke-width="0.6"/>
<line x1="191.81" y1="280.64" x2="194.21" y2="280.64" stroke="#333" stroke-width="0.6"/>
<line x1="200.61" y1="283.99" x2="200.61" y2="286.5" stroke="#333" stroke-width="0.6"/>
<line x1="199.41" y1="283.99" x2="201.81" y2="283.99" stroke="#333" stroke-width="0.6"/>
<line x1="199.41" y1="286.5" x2="201.81" y2="286.5" stroke="#333" stroke-width="0.6"/>
<line x1="212.32" y1="266.4" x2="212.32" y2="273.1" stroke="#333" stroke-width="0.6"/>
<line x1="211.12" y1="266.4" x2="213.52" y2="266.4" stroke="#333" stroke-width="0.6"/>
<line x1="211.12" y1="273.1" x2="213.52" y2="273.1" stroke="#333" stroke-width="0.6"/>
<line x1="219.92" y1="281.47" x2="219.92" y2="285.66" stroke="#333" stroke-width="0.6"/>
<line x1="218.72" y1="281.47" x2="221.12" y2="281.47" stroke="#333" stroke-width="0.6"/>
<line x1="218.72" y1="285.66" x2="221.12" y2="285.66" stroke="#333" stroke-width="0.6"/>
<line x1="231.63" y1="279.8" x2="231.63" y2="283.15" stroke="#333" stroke-width="0.6"/>
<line x1="230.43" y1="279.8" x2="232.83" y2="279.8" stroke="#333" stroke-width="0.6"/>
<line x1="230.43" y1="283.15" x2="232.83" y2="283.15" stroke="#333" stroke-width="0.6"/>
<line x1="239.23" y1="288.18" x2="239.23" y2="289.85" stroke="#333" stroke-width="0.6"/>
<line x1="238.03" y1="288.18" x2="240.43" y2="288.18" stroke="#333" stroke-width="0.6"/>
<line x1="238.03" y1="289.85" x2="240.43" y2="289.85" stroke="#333" stroke-width="0.6"/>
<line x1="250.94" y1="259.7" x2="250.94" y2="269.75" stroke="#333" stroke-width="0.6"/>
<line x1="249.74" y1="259.7" x2="252.14" y2="259.7" stroke="#333" stroke-width="0.6"/>
<line x1="249.74" y1="269.75" x2="252.14" y2="269.75" stroke="#333" stroke-width="0.6"/>
<line x1="258.54" y1="276.45" x2="258.54" y2="281.47" stroke="#333" stroke-width="0.6"/>
<line x1="257.34" y1="276.45" x2="259.74" y2="276.45" stroke="#333" stroke-width="0.6"/>
<line x1="257.34" y1="281.47" x2="259.74" y2="281.47" stroke="#333" stroke-width="0.6"/>
<line x1="270.25" y1="280.64" x2="270.25" y2="283.15" stroke="#333" stroke-width="0.6"/>
<line x1="269.05" y1="280.64" x2="271.45" y2="280.64" stroke="#333" stroke-width="0.6"/>
<line x1="269.05" y1="283.15" x2="271.45" y2="283.15" stroke="#333" stroke-width="0.6"/>
<line x1="277.85" y1="283.15" x2="277.85" y2="286.5" stroke="#333" stroke-width="0.6"/>
<line x1="276.65" y1="283.15" x2="279.05" y2="283.15" stroke="#333" stroke-width="0.6"/>
<line x1="276.65" y1="286.5" x2="279.05" y2="286.5" stroke="#333" stroke-width="0.6"/>
<line x1="289.56" y1="268.91" x2="289.56" y2="273.1" stroke="#333" stroke-width="0.6"/>
<line x1="288.36" y1="268.91" x2="290.76" y2="268.91" stroke="#333" stroke-width="0.6"/>
<line x1="288.36" y1="273.1" x2="290.76" y2="273.1" stroke="#333" stroke-width="0.6"/>
<line x1="297.16" y1="273.1" x2="297.16" y2="278.12" stroke="#333" stroke-width="0.6"/>
<line x1="295.96" y1="273.1" x2="298.36" y2="273.1" stroke="#333" stroke-width="0.6"/>
<line x1="295.96" y1="278.12" x2="298.36" y2="278.12" stroke="#333" stroke-width="0.6"/>
<line x1="308.87" y1="249.65" x2="308.87" y2="263.05" stroke="#333" stroke-width="0.6"/>
<line x1="307.67" y1="249.65" x2="310.07" y2="249.65" stroke="#333" stroke-width="0.6"/>
<line x1="307.67" y1="263.05" x2="310.07" y2="263.05" stroke="#333" stroke-width="0.6"/>
<line x1="316.47" y1="259.7" x2="316.47" y2="273.1" stroke="#333" stroke-width="0.6"/>
<line x1="315.27" y1="259.7" x2="317.67" y2="259.7" stroke="#333" stroke-width="0.6"/>
<line x1="315.27" y1="273.1" x2="317.67" y2="273.1" stroke="#333" stroke-width="0.6"/>
<line x1="328.18" y1="247.97" x2="328.18" y2="264.72" stroke="#333" stroke-width="0.6"/>
<line x1="326.98" y1="247.97" x2="329.38" y2="247.97" stroke="#333" stroke-width="0.6"/>
<line x1="326.98" y1="264.72" x2="329.38" y2="264.72" stroke="#333" stroke-width="0.6"/>
<line x1="335.78" y1="254.67" x2="335.78" y2="273.1" stroke="#333" stroke-width="0.6"/>
<line x1="334.58" y1="254.67" x2="336.98" y2="254.67" stroke="#333" stroke-width="0.6"/>
<line x1="334.58" y1="273.1" x2="336.98" y2="273.1" stroke="#333" stroke-width="0.6"/>
<circle cx="173" cy="223.8" r="1.7" fill="#fff" stroke="#000" stroke-width="0.85"/>
<circle cx="172.5" cy="235.5" r="1.7" fill="#fff" stroke="#000" stroke-width="0.85"/>
<circle cx="174.4" cy="237.7" r="1.7" fill="#fff" stroke="#000" stroke-width="0.85"/>
<circle cx="173.3" cy="266.5" r="1.7" fill="#fff" stroke="#000" stroke-width="0.85"/>
<circle cx="180.8" cy="257.7" r="1.7" fill="#fff" stroke="#000" stroke-width="0.85"/>
<circle cx="179.4" cy="260.4" r="1.7" fill="#fff" stroke="#000" stroke-width="0.85"/>
<circle cx="180" cy="269.3" r="1.7" fill="#fff" stroke="#000" stroke-width="0.85"/>
<circle cx="181.6" cy="271.5" r="1.7" fill="#fff" stroke="#000" stroke-width="0.85"/>
<circle cx="192.7" cy="275.1" r="1.7" fill="#fff" stroke="#000" stroke-width="0.85"/>
<circle cx="192.5" cy="279" r="1.7" fill="#fff" stroke="#000" stroke-width="0.85"/>
<circle cx="193.3" cy="281.2" r="1.7" fill="#fff" stroke="#000" stroke-width="0.85"/>
<circle cx="201" cy="281.2" r="1.7" fill="#fff" stroke="#000" stroke-width="0.85"/>
<circle cx="199.7" cy="284.9" r="1.7" fill="#fff" stroke="#000" stroke-width="0.85"/>
<circle cx="200.8" cy="288.2" r="1.7" fill="#fff" stroke="#000" stroke-width="0.85"/>
<circle cx="212.1" cy="261.8" r="1.7" fill="#fff" stroke="#000" stroke-width="0.85"/>
<circle cx="212.7" cy="271" r="1.7" fill="#fff" stroke="#000" stroke-width="0.85"/>
<circle cx="211.3" cy="274.3" r="1.7" fill="#fff" stroke="#000" stroke-width="0.85"/>
<circle cx="219.6" cy="279.9" r="1.7" fill="#fff" stroke="#000" stroke-width="0.85"/>
<circle cx="219.1" cy="283.2" r="1.7" fill="#fff" stroke="#000" stroke-width="0.85"/>
<circle cx="218.3" cy="284.9" r="1.7" fill="#fff" stroke="#000" stroke-width="0.85"/>
<circle cx="232.1" cy="279.3" r="1.7" fill="#fff" stroke="#000" stroke-width="0.85"/>
<circle cx="231.6" cy="282.6" r="1.7" fill="#fff" stroke="#000" stroke-width="0.85"/>
<circle cx="231.6" cy="289" r="1.7" fill="#fff" stroke="#000" stroke-width="0.85"/>
<circle cx="238.5" cy="286.8" r="1.7" fill="#fff" stroke="#000" stroke-width="0.85"/>
<circle cx="239" cy="289" r="1.7" fill="#fff" stroke="#000" stroke-width="0.85"/>
<circle cx="238.5" cy="289.6" r="1.7" fill="#fff" stroke="#000" stroke-width="0.85"/>
<circle cx="250.7" cy="249.3" r="1.7" fill="#fff" stroke="#000" stroke-width="0.85"/>
<circle cx="251" cy="262.7" r="1.7" fill="#fff" stroke="#000" stroke-width="0.85"/>
<circle cx="250.4" cy="269.6" r="1.7" fill="#fff" stroke="#000" stroke-width="0.85"/>
<circle cx="251.5" cy="275.7" r="1.7" fill="#fff" stroke="#000" stroke-width="0.85"/>
<circle cx="258.5" cy="271.5" r="1.7" fill="#fff" stroke="#000" stroke-width="0.85"/>
<circle cx="257.1" cy="278.5" r="1.7" fill="#fff" stroke="#000" stroke-width="0.85"/>
<circle cx="258.8" cy="282.1" r="1.7" fill="#fff" stroke="#000" stroke-width="0.85"/>
<circle cx="270.4" cy="278.5" r="1.7" fill="#fff" stroke="#000" stroke-width="0.85"/>
<circle cx="269.6" cy="284" r="1.7" fill="#fff" stroke="#000" stroke-width="0.85"/>
<circle cx="271" cy="284.9" r="1.7" fill="#fff" stroke="#000" stroke-width="0.85"/>
<circle cx="277.9" cy="278.5" r="1.7" fill="#fff" stroke="#000" stroke-width="0.85"/>
<circle cx="277.1" cy="283.2" r="1.7" fill="#fff" stroke="#000" stroke-width="0.85"/>
<circle cx="278.4" cy="286" r="1.7" fill="#fff" stroke="#000" stroke-width="0.85"/>
<circle cx="289.5" cy="262.4" r="1.7" fill="#fff" stroke="#000" stroke-width="0.85"/>
<circle cx="289.5" cy="267.9" r="1.7" fill="#fff" stroke="#000" stroke-width="0.85"/>
<circle cx="289.5" cy="275.7" r="1.7" fill="#fff" stroke="#000" stroke-width="0.85"/>
<circle cx="296.8" cy="270.2" r="1.7" fill="#fff" stroke="#000" stroke-width="0.85"/>
<circle cx="295.9" cy="272.9" r="1.7" fill="#fff" stroke="#000" stroke-width="0.85"/>
<circle cx="297.3" cy="280.4" r="1.7" fill="#fff" stroke="#000" stroke-width="0.85"/>
<circle cx="307.6" cy="243.8" r="1.7" fill="#fff" stroke="#000" stroke-width="0.85"/>
<circle cx="309.8" cy="242.4" r="1.7" fill="#fff" stroke="#000" stroke-width="0.85"/>
<circle cx="308.4" cy="268.2" r="1.7" fill="#fff" stroke="#000" stroke-width="0.85"/>
<circle cx="316.7" cy="245.2" r="1.7" fill="#fff" stroke="#000" stroke-width="0.85"/>
<circle cx="316.7" cy="270.2" r="1.7" fill="#fff" stroke="#000" stroke-width="0.85"/>
<circle cx="316.7" cy="278.5" r="1.7" fill="#fff" stroke="#000" stroke-width="0.85"/>
<circle cx="327.3" cy="232.2" r="1.7" fill="#fff" stroke="#000" stroke-width="0.85"/>
<circle cx="328.7" cy="253.5" r="1.7" fill="#fff" stroke="#000" stroke-width="0.85"/>
<circle cx="327.8" cy="269.6" r="1.7" fill="#fff" stroke="#000" stroke-width="0.85"/>
<circle cx="335.6" cy="239.6" r="1.7" fill="#fff" stroke="#000" stroke-width="0.85"/>
<circle cx="335.6" cy="258.5" r="1.7" fill="#fff" stroke="#000" stroke-width="0.85"/>
<circle cx="335.6" cy="271.5" r="1.7" fill="#fff" stroke="#000" stroke-width="0.85"/>
<circle cx="335.6" cy="286" r="1.7" fill="#fff" stroke="#000" stroke-width="0.85"/>
<text transform="translate(171.9 215) scale(0.9 1)" font-size="6.67" fill="#333">0.049</text>
<line x1="173.7" y1="216.4" x2="183.2" y2="216.4" stroke="#222" stroke-width="0.8"/>
<text transform="translate(190.5 255.4) scale(0.9 1)" font-size="6.67" fill="#333">0.028</text>
<line x1="192.5" y1="258.5" x2="201" y2="258.5" stroke="#222" stroke-width="0.8"/>
<text transform="translate(210.8 254) scale(0.9 1)" font-size="6.67" fill="#333">0.006</text>
<line x1="212" y1="256.6" x2="221" y2="256.6" stroke="#222" stroke-width="0.8"/>
<text transform="translate(228.8 269.2) scale(0.9 1)" font-size="6.67" fill="#333">0.037</text>
<line x1="231" y1="271.6" x2="239.5" y2="271.6" stroke="#222" stroke-width="0.8"/>
<text transform="translate(248.2 240.9) scale(0.9 1)" font-size="6.67" fill="#333">0.073</text>
<line x1="250" y1="243.9" x2="259.5" y2="243.9" stroke="#222" stroke-width="0.8"/>
<text transform="translate(267 263.6) scale(0.9 1)" font-size="6.67" fill="#333">0.307</text>
<line x1="269" y1="267.7" x2="278" y2="267.7" stroke="#222" stroke-width="0.8"/>
<text transform="translate(288.2 247.8) scale(0.9 1)" font-size="6.67" fill="#333">0.31</text>
<line x1="289" y1="253.5" x2="298.5" y2="253.5" stroke="#222" stroke-width="0.8"/>
<text transform="translate(309 227.5) scale(0.9 1)" font-size="6.67" fill="#333">0.33</text>
<line x1="309" y1="230.3" x2="320.3" y2="230.3" stroke="#222" stroke-width="0.8"/>
<text transform="translate(328.4 226.7) scale(0.9 1)" font-size="6.67" fill="#333">0.57</text>
<line x1="328.4" y1="229.5" x2="339" y2="229.5" stroke="#222" stroke-width="0.8"/>
<text transform="translate(183.2 302.7) rotate(-45) scale(0.9 1)" font-size="8.89" text-anchor="end">16:0/18:2</text>
<text transform="translate(202.51 302.7) rotate(-45) scale(0.9 1)" font-size="8.89" text-anchor="end">16:0/22:4</text>
<text transform="translate(221.82 302.7) rotate(-45) scale(0.9 1)" font-size="8.89" text-anchor="end">16:0/22:5</text>
<text transform="translate(241.13 302.7) rotate(-45) scale(0.9 1)" font-size="8.89" text-anchor="end">18:1/20:2</text>
<text transform="translate(260.44 302.7) rotate(-45) scale(0.9 1)" font-size="8.89" text-anchor="end">18:1/18:2</text>
<text transform="translate(279.75 302.7) rotate(-45) scale(0.9 1)" font-size="8.89" text-anchor="end">18:1/20:4</text>
<text transform="translate(299.06 302.7) rotate(-45) scale(0.9 1)" font-size="8.89" text-anchor="end">16:0/20:2</text>
<text transform="translate(318.37 302.7) rotate(-45) scale(0.9 1)" font-size="8.89" text-anchor="end">16:0/20:3</text>
<text transform="translate(337.68 302.7) rotate(-45) scale(0.9 1)" font-size="8.89" text-anchor="end">16:0/20:4</text>
<text transform="translate(419.5 177) scale(0.95 1)" font-size="10.74" font-weight="bold" fill="#000">h</text>
<rect x="474.9" y="204.7" width="6.6" height="3.9" fill="#ff2600" stroke="#222" stroke-width="0.6"/>
<text transform="translate(483.9 208.3) scale(0.9 1)" font-size="4.78" fill="#333">SFA</text>
<rect x="498.3" y="204.7" width="6.6" height="3.9" fill="#a9a9a9" stroke="#222" stroke-width="0.6"/>
<text transform="translate(507.3 208.3) scale(0.9 1)" font-size="4.78" fill="#333">PUFA</text>
<rect x="527.3" y="204.7" width="6.6" height="3.9" fill="#02168f" stroke="#222" stroke-width="0.6"/>
<text transform="translate(536.1 208.3) scale(0.9 1)" font-size="4.78" fill="#333">MUFA</text>
<path d="M446.7,247.8 L446.7,218.2 A29.6,29.6 0 0 1 476.09,251.36 Z" fill="#ff2600"/>
<path d="M446.7,247.8 L476.09,251.36 A29.6,29.6 0 0 1 445.15,277.36 Z" fill="#a9a9a9"/>
<path d="M446.7,247.8 L445.15,277.36 A29.6,29.6 0 0 1 446.7,218.2 Z" fill="#02168f"/>
<circle cx="446.7" cy="247.8" r="29.6" fill="none" stroke="#111" stroke-width="0.95"/>
<path d="M516.3,247.4 L516.3,217.4 A30.0,30.0 0 0 1 545.77,241.78 Z" fill="#ff2600"/>
<path d="M516.3,247.4 L545.77,241.78 A30.0,30.0 0 0 1 512.18,277.12 Z" fill="#a9a9a9"/>
<path d="M516.3,247.4 L512.18,277.12 A30.0,30.0 0 0 1 516.3,217.4 Z" fill="#02168f"/>
<circle cx="516.3" cy="247.4" r="30.0" fill="none" stroke="#111" stroke-width="0.95"/>
<text transform="translate(443.6 288.9) scale(0.9 1)" font-size="8.89" text-anchor="middle">EV</text>
<text transform="translate(515.4 288.9) scale(0.9 1)" font-size="8.89" text-anchor="middle">LPCAT3</text>
<text transform="translate(610 187.5) scale(0.9 1)" font-size="8.89" text-anchor="middle">PUFA</text>
<line x1="583.7" y1="198.78" x2="583.7" y2="278.5" stroke="#8a8a8a" stroke-width="0.95"/>
<line x1="580.7" y1="198.78" x2="583.7" y2="198.78" stroke="#8a8a8a" stroke-width="0.95"/>
<text transform="translate(577.1 202.14) scale(0.9 1)" font-size="8.89" text-anchor="end">40</text>
<line x1="580.7" y1="218.71" x2="583.7" y2="218.71" stroke="#8a8a8a" stroke-width="0.95"/>
<text transform="translate(577.1 222.07) scale(0.9 1)" font-size="8.89" text-anchor="end">30</text>
<line x1="580.7" y1="238.64" x2="583.7" y2="238.64" stroke="#8a8a8a" stroke-width="0.95"/>
<text transform="translate(577.1 242) scale(0.9 1)" font-size="8.89" text-anchor="end">20</text>
<line x1="580.7" y1="258.57" x2="583.7" y2="258.57" stroke="#8a8a8a" stroke-width="0.95"/>
<text transform="translate(577.1 261.93) scale(0.9 1)" font-size="8.89" text-anchor="end">10</text>
<line x1="580.7" y1="278.5" x2="583.7" y2="278.5" stroke="#8a8a8a" stroke-width="0.95"/>
<text transform="translate(577.1 281.86) scale(0.9 1)" font-size="8.89" text-anchor="end">0</text>
<text transform="translate(560.3 238.5) rotate(-90) scale(0.9 1)" font-size="8.89" text-anchor="middle">PUFA (percent of total PC)</text>
<rect x="591.1" y="230.7" width="15.1" height="47.8" fill="#ff2600"/>
<rect x="614" y="217.9" width="14.7" height="60.6" fill="#02168f" stroke="#0a0a30" stroke-width="0.7"/>
<line x1="583.7" y1="278.5" x2="636.5" y2="278.5" stroke="#8a8a8a" stroke-width="0.95"/>
<line x1="598.6" y1="278.5" x2="598.6" y2="281.5" stroke="#8a8a8a" stroke-width="0.95"/>
<line x1="621.3" y1="278.5" x2="621.3" y2="281.5" stroke="#8a8a8a" stroke-width="0.95"/>
<line x1="598.6" y1="228.3" x2="598.6" y2="233" stroke="#000" stroke-width="0.75"/>
<line x1="593.8" y1="228.3" x2="603.4" y2="228.3" stroke="#000" stroke-width="0.75"/>
<line x1="593.8" y1="233" x2="603.4" y2="233" stroke="#000" stroke-width="0.75"/>
<line x1="621.3" y1="214.5" x2="621.3" y2="221" stroke="#000" stroke-width="0.75"/>
<line x1="616.5" y1="214.5" x2="626.1" y2="214.5" stroke="#000" stroke-width="0.75"/>
<line x1="616.5" y1="221" x2="626.1" y2="221" stroke="#000" stroke-width="0.75"/>
<circle cx="597.6" cy="226.2" r="1.55" fill="#fff" stroke="#000" stroke-width="0.95"/>
<circle cx="594.9" cy="230.2" r="1.55" fill="#fff" stroke="#000" stroke-width="0.95"/>
<circle cx="601.2" cy="228.9" r="1.55" fill="#fff" stroke="#000" stroke-width="0.95"/>
<circle cx="595.6" cy="235.2" r="1.55" fill="#fff" stroke="#000" stroke-width="0.95"/>
<circle cx="602.1" cy="232.5" r="1.55" fill="#fff" stroke="#000" stroke-width="0.95"/>
<circle cx="621.5" cy="208.2" r="1.55" fill="#fff" stroke="#000" stroke-width="0.95"/>
<circle cx="618.1" cy="222.4" r="1.55" fill="#fff" stroke="#000" stroke-width="0.95"/>
<circle cx="624.2" cy="222.4" r="1.55" fill="#fff" stroke="#000" stroke-width="0.95"/>
<circle cx="621.5" cy="218.3" r="1.55" fill="#fff" stroke="#000" stroke-width="0.95"/>
<line x1="597.6" y1="199.2" x2="622.5" y2="199.2" stroke="#111" stroke-width="1.1"/>
<text transform="translate(597.6 197.1) scale(0.9 1)" font-size="6.67" fill="#222"><tspan font-style="italic">P</tspan> = 0.016</text>
<text transform="translate(603 287.3) rotate(-45) scale(0.9 1)" font-size="8.89" text-anchor="end">EV</text>
<text transform="translate(625.6 288.3) rotate(-45) scale(0.9 1)" font-size="8.89" text-anchor="end">LPCAT3</text>
<text transform="translate(7.9 349.3) scale(0.95 1)" font-size="10.74" font-weight="bold" fill="#000">f</text>
<text transform="translate(86 353.2) scale(0.9 1)" font-size="8.89" text-anchor="middle">PC/PE ratio</text>
<line x1="53.5" y1="368.55" x2="53.5" y2="464.3" stroke="#8a8a8a" stroke-width="0.95"/>
<line x1="50.5" y1="368.55" x2="53.5" y2="368.55" stroke="#8a8a8a" stroke-width="0.95"/>
<text transform="translate(46.9 371.91) scale(0.9 1)" font-size="8.89" text-anchor="end">0.25</text>
<line x1="50.5" y1="387.7" x2="53.5" y2="387.7" stroke="#8a8a8a" stroke-width="0.95"/>
<text transform="translate(46.9 391.06) scale(0.9 1)" font-size="8.89" text-anchor="end">0.20</text>
<line x1="50.5" y1="406.85" x2="53.5" y2="406.85" stroke="#8a8a8a" stroke-width="0.95"/>
<text transform="translate(46.9 410.21) scale(0.9 1)" font-size="8.89" text-anchor="end">0.15</text>
<line x1="50.5" y1="426" x2="53.5" y2="426" stroke="#8a8a8a" stroke-width="0.95"/>
<text transform="translate(46.9 429.36) scale(0.9 1)" font-size="8.89" text-anchor="end">0.10</text>
<line x1="50.5" y1="445.15" x2="53.5" y2="445.15" stroke="#8a8a8a" stroke-width="0.95"/>
<text transform="translate(46.9 448.51) scale(0.9 1)" font-size="8.89" text-anchor="end">0.05</text>
<line x1="50.5" y1="464.3" x2="53.5" y2="464.3" stroke="#8a8a8a" stroke-width="0.95"/>
<text transform="translate(46.9 467.66) scale(0.9 1)" font-size="8.89" text-anchor="end">0</text>
<text transform="translate(24.9 416) rotate(-90) scale(0.9 1)" font-size="8.89" text-anchor="middle">Intensities ratio</text>
<rect x="63.2" y="402.2" width="18.1" height="62.1" fill="#ff2600"/>
<rect x="91" y="382" width="18.1" height="82.3" fill="#02168f" stroke="#0a0a30" stroke-width="0.7"/>
<line x1="53.5" y1="464.3" x2="118" y2="464.3" stroke="#8a8a8a" stroke-width="0.95"/>
<line x1="72.1" y1="464.3" x2="72.1" y2="467.3" stroke="#8a8a8a" stroke-width="0.95"/>
<line x1="99.6" y1="464.3" x2="99.6" y2="467.3" stroke="#8a8a8a" stroke-width="0.95"/>
<line x1="72.1" y1="398.8" x2="72.1" y2="405.5" stroke="#000" stroke-width="0.75"/>
<line x1="67.3" y1="398.8" x2="76.9" y2="398.8" stroke="#000" stroke-width="0.75"/>
<line x1="67.3" y1="405.5" x2="76.9" y2="405.5" stroke="#000" stroke-width="0.75"/>
<line x1="99.6" y1="377.5" x2="99.6" y2="386.5" stroke="#000" stroke-width="0.75"/>
<line x1="94.8" y1="377.5" x2="104.4" y2="377.5" stroke="#000" stroke-width="0.75"/>
<line x1="94.8" y1="386.5" x2="104.4" y2="386.5" stroke="#000" stroke-width="0.75"/>
<circle cx="72" cy="392.5" r="1.95" fill="#fff" stroke="#000" stroke-width="1.1"/>
<circle cx="72" cy="402.7" r="1.95" fill="#fff" stroke="#000" stroke-width="1.1"/>
<circle cx="65.2" cy="406.3" r="1.95" fill="#fff" stroke="#000" stroke-width="1.1"/>
<circle cx="79.2" cy="406.3" r="1.95" fill="#fff" stroke="#000" stroke-width="1.1"/>
<circle cx="99.6" cy="370.7" r="1.95" fill="#fff" stroke="#000" stroke-width="1.1"/>
<circle cx="96.3" cy="383.1" r="1.95" fill="#fff" stroke="#000" stroke-width="1.1"/>
<circle cx="103" cy="383.8" r="1.95" fill="#fff" stroke="#000" stroke-width="1.1"/>
<circle cx="99.6" cy="390.5" r="1.95" fill="#fff" stroke="#000" stroke-width="1.1"/>
<line x1="69.3" y1="366.2" x2="101.2" y2="366.2" stroke="#111" stroke-width="1.1"/>
<text transform="translate(69.3 363.8) scale(0.9 1)" font-size="7.22" fill="#222"><tspan font-style="italic">P</tspan> = 0.0095</text>
<text transform="translate(76 474.5) rotate(-45) scale(0.9 1)" font-size="8.89" text-anchor="end">EV</text>
<text transform="translate(104.5 474.5) rotate(-45) scale(0.9 1)" font-size="8.89" text-anchor="end">LPCAT3</text>
<text transform="translate(142 349.3) scale(1.1 1)" font-size="9.64" font-weight="bold" fill="#000" font-family="Liberation Serif">g</text>
<text transform="translate(251.8 373.2) scale(0.9 1)" font-size="8.89" text-anchor="middle">PUFA</text>
<rect x="298.6" y="356.3" width="9" height="5.2" fill="#ff2600"/>
<text transform="translate(310.5 361.6) scale(0.9 1)" font-size="8.89">EV</text>
<rect x="298.6" y="367.9" width="9" height="5.5" fill="#02168f"/>
<text transform="translate(310.5 373.3) scale(0.9 1)" font-size="8.89">LPCAT3</text>
<line x1="167.5" y1="384.65" x2="167.5" y2="464.4" stroke="#8a8a8a" stroke-width="0.95"/>
<line x1="164.5" y1="384.65" x2="167.5" y2="384.65" stroke="#8a8a8a" stroke-width="0.95"/>
<text transform="translate(160.9 388.01) scale(0.9 1)" font-size="8.89" text-anchor="end">5</text>
<line x1="164.5" y1="400.6" x2="167.5" y2="400.6" stroke="#8a8a8a" stroke-width="0.95"/>
<text transform="translate(160.9 403.96) scale(0.9 1)" font-size="8.89" text-anchor="end">4</text>
<line x1="164.5" y1="416.55" x2="167.5" y2="416.55" stroke="#8a8a8a" stroke-width="0.95"/>
<text transform="translate(160.9 419.91) scale(0.9 1)" font-size="8.89" text-anchor="end">3</text>
<line x1="164.5" y1="432.5" x2="167.5" y2="432.5" stroke="#8a8a8a" stroke-width="0.95"/>
<text transform="translate(160.9 435.86) scale(0.9 1)" font-size="8.89" text-anchor="end">2</text>
<line x1="164.5" y1="448.45" x2="167.5" y2="448.45" stroke="#8a8a8a" stroke-width="0.95"/>
<text transform="translate(160.9 451.81) scale(0.9 1)" font-size="8.89" text-anchor="end">1</text>
<line x1="164.5" y1="464.4" x2="167.5" y2="464.4" stroke="#8a8a8a" stroke-width="0.95"/>
<text transform="translate(160.9 467.76) scale(0.9 1)" font-size="8.89" text-anchor="end">0</text>
<text transform="translate(150.5 424.5) rotate(-90) scale(0.9 1)" font-size="8.89" text-anchor="middle">PC/PE</text>
<rect x="170.3" y="436.17" width="4.8" height="28.23" fill="#ff2600"/>
<rect x="177.4" y="418.94" width="4.7" height="45.46" fill="#02168f" stroke="#0a0a30" stroke-width="0.6"/>
<rect x="189.13" y="456.9" width="4.8" height="7.5" fill="#ff2600"/>
<rect x="196.23" y="439.36" width="4.7" height="25.04" fill="#02168f" stroke="#0a0a30" stroke-width="0.6"/>
<rect x="207.96" y="453.71" width="4.8" height="10.69" fill="#ff2600"/>
<rect x="215.06" y="430.27" width="4.7" height="34.13" fill="#02168f" stroke="#0a0a30" stroke-width="0.6"/>
<rect x="226.79" y="460.25" width="4.8" height="4.15" fill="#ff2600"/>
<rect x="233.89" y="453.71" width="4.7" height="10.69" fill="#02168f" stroke="#0a0a30" stroke-width="0.6"/>
<rect x="245.62" y="454.83" width="4.8" height="9.57" fill="#ff2600"/>
<rect x="252.72" y="447.33" width="4.7" height="17.07" fill="#02168f" stroke="#0a0a30" stroke-width="0.6"/>
<rect x="264.45" y="458.02" width="4.8" height="6.38" fill="#ff2600"/>
<rect x="271.55" y="451.64" width="4.7" height="12.76" fill="#02168f" stroke="#0a0a30" stroke-width="0.6"/>
<rect x="283.28" y="455.47" width="4.8" height="8.93" fill="#ff2600"/>
<rect x="290.38" y="431.22" width="4.7" height="33.18" fill="#02168f" stroke="#0a0a30" stroke-width="0.6"/>
<rect x="302.11" y="445.26" width="4.8" height="19.14" fill="#ff2600"/>
<rect x="309.21" y="418.94" width="4.7" height="45.46" fill="#02168f" stroke="#0a0a30" stroke-width="0.6"/>
<rect x="320.94" y="440.16" width="4.8" height="24.24" fill="#ff2600"/>
<rect x="328.04" y="410.97" width="4.7" height="53.43" fill="#02168f" stroke="#0a0a30" stroke-width="0.6"/>
<line x1="167.5" y1="464.4" x2="334.8" y2="464.4" stroke="#8a8a8a" stroke-width="0.95"/>
<line x1="176.25" y1="464.4" x2="176.25" y2="467.4" stroke="#8a8a8a" stroke-width="0.95"/>
<line x1="195.08" y1="464.4" x2="195.08" y2="467.4" stroke="#8a8a8a" stroke-width="0.95"/>
<line x1="213.91" y1="464.4" x2="213.91" y2="467.4" stroke="#8a8a8a" stroke-width="0.95"/>
<line x1="232.74" y1="464.4" x2="232.74" y2="467.4" stroke="#8a8a8a" stroke-width="0.95"/>
<line x1="251.57" y1="464.4" x2="251.57" y2="467.4" stroke="#8a8a8a" stroke-width="0.95"/>
<line x1="270.4" y1="464.4" x2="270.4" y2="467.4" stroke="#8a8a8a" stroke-width="0.95"/>
<line x1="289.23" y1="464.4" x2="289.23" y2="467.4" stroke="#8a8a8a" stroke-width="0.95"/>
<line x1="308.06" y1="464.4" x2="308.06" y2="467.4" stroke="#8a8a8a" stroke-width="0.95"/>
<line x1="326.89" y1="464.4" x2="326.89" y2="467.4" stroke="#8a8a8a" stroke-width="0.95"/>
<line x1="172.7" y1="433.3" x2="172.7" y2="438.88" stroke="#333" stroke-width="0.6"/>
<line x1="171.5" y1="433.3" x2="173.9" y2="433.3" stroke="#333" stroke-width="0.6"/>
<line x1="171.5" y1="438.88" x2="173.9" y2="438.88" stroke="#333" stroke-width="0.6"/>
<line x1="179.8" y1="413.36" x2="179.8" y2="424.52" stroke="#333" stroke-width="0.6"/>
<line x1="178.6" y1="413.36" x2="181" y2="413.36" stroke="#333" stroke-width="0.6"/>
<line x1="178.6" y1="424.52" x2="181" y2="424.52" stroke="#333" stroke-width="0.6"/>
<line x1="191.53" y1="454.83" x2="191.53" y2="458.82" stroke="#333" stroke-width="0.6"/>
<line x1="190.33" y1="454.83" x2="192.73" y2="454.83" stroke="#333" stroke-width="0.6"/>
<line x1="190.33" y1="458.82" x2="192.73" y2="458.82" stroke="#333" stroke-width="0.6"/>
<line x1="198.63" y1="437.28" x2="198.63" y2="441.27" stroke="#333" stroke-width="0.6"/>
<line x1="197.43" y1="437.28" x2="199.83" y2="437.28" stroke="#333" stroke-width="0.6"/>
<line x1="197.43" y1="441.27" x2="199.83" y2="441.27" stroke="#333" stroke-width="0.6"/>
<line x1="210.36" y1="450.84" x2="210.36" y2="456.42" stroke="#333" stroke-width="0.6"/>
<line x1="209.16" y1="450.84" x2="211.56" y2="450.84" stroke="#333" stroke-width="0.6"/>
<line x1="209.16" y1="456.42" x2="211.56" y2="456.42" stroke="#333" stroke-width="0.6"/>
<line x1="217.46" y1="426.12" x2="217.46" y2="434.09" stroke="#333" stroke-width="0.6"/>
<line x1="216.26" y1="426.12" x2="218.66" y2="426.12" stroke="#333" stroke-width="0.6"/>
<line x1="216.26" y1="434.09" x2="218.66" y2="434.09" stroke="#333" stroke-width="0.6"/>
<line x1="229.19" y1="459.61" x2="229.19" y2="460.89" stroke="#333" stroke-width="0.6"/>
<line x1="227.99" y1="459.61" x2="230.39" y2="459.61" stroke="#333" stroke-width="0.6"/>
<line x1="227.99" y1="460.89" x2="230.39" y2="460.89" stroke="#333" stroke-width="0.6"/>
<line x1="236.29" y1="451.64" x2="236.29" y2="455.63" stroke="#333" stroke-width="0.6"/>
<line x1="235.09" y1="451.64" x2="237.49" y2="451.64" stroke="#333" stroke-width="0.6"/>
<line x1="235.09" y1="455.63" x2="237.49" y2="455.63" stroke="#333" stroke-width="0.6"/>
<line x1="248.02" y1="454.03" x2="248.02" y2="455.63" stroke="#333" stroke-width="0.6"/>
<line x1="246.82" y1="454.03" x2="249.22" y2="454.03" stroke="#333" stroke-width="0.6"/>
<line x1="246.82" y1="455.63" x2="249.22" y2="455.63" stroke="#333" stroke-width="0.6"/>
<line x1="255.12" y1="444.46" x2="255.12" y2="450.04" stroke="#333" stroke-width="0.6"/>
<line x1="253.92" y1="444.46" x2="256.32" y2="444.46" stroke="#333" stroke-width="0.6"/>
<line x1="253.92" y1="450.04" x2="256.32" y2="450.04" stroke="#333" stroke-width="0.6"/>
<line x1="266.85" y1="456.42" x2="266.85" y2="459.61" stroke="#333" stroke-width="0.6"/>
<line x1="265.65" y1="456.42" x2="268.05" y2="456.42" stroke="#333" stroke-width="0.6"/>
<line x1="265.65" y1="459.61" x2="268.05" y2="459.61" stroke="#333" stroke-width="0.6"/>
<line x1="273.95" y1="449.25" x2="273.95" y2="454.03" stroke="#333" stroke-width="0.6"/>
<line x1="272.75" y1="449.25" x2="275.15" y2="449.25" stroke="#333" stroke-width="0.6"/>
<line x1="272.75" y1="454.03" x2="275.15" y2="454.03" stroke="#333" stroke-width="0.6"/>
<line x1="285.68" y1="454.03" x2="285.68" y2="457.22" stroke="#333" stroke-width="0.6"/>
<line x1="284.48" y1="454.03" x2="286.88" y2="454.03" stroke="#333" stroke-width="0.6"/>
<line x1="284.48" y1="457.22" x2="286.88" y2="457.22" stroke="#333" stroke-width="0.6"/>
<line x1="292.78" y1="426.92" x2="292.78" y2="435.69" stroke="#333" stroke-width="0.6"/>
<line x1="291.58" y1="426.92" x2="293.98" y2="426.92" stroke="#333" stroke-width="0.6"/>
<line x1="291.58" y1="435.69" x2="293.98" y2="435.69" stroke="#333" stroke-width="0.6"/>
<line x1="304.51" y1="442.87" x2="304.51" y2="447.65" stroke="#333" stroke-width="0.6"/>
<line x1="303.31" y1="442.87" x2="305.71" y2="442.87" stroke="#333" stroke-width="0.6"/>
<line x1="303.31" y1="447.65" x2="305.71" y2="447.65" stroke="#333" stroke-width="0.6"/>
<line x1="311.61" y1="413.36" x2="311.61" y2="424.52" stroke="#333" stroke-width="0.6"/>
<line x1="310.41" y1="413.36" x2="312.81" y2="413.36" stroke="#333" stroke-width="0.6"/>
<line x1="310.41" y1="424.52" x2="312.81" y2="424.52" stroke="#333" stroke-width="0.6"/>
<line x1="323.34" y1="434.09" x2="323.34" y2="446.06" stroke="#333" stroke-width="0.6"/>
<line x1="322.14" y1="434.09" x2="324.54" y2="434.09" stroke="#333" stroke-width="0.6"/>
<line x1="322.14" y1="446.06" x2="324.54" y2="446.06" stroke="#333" stroke-width="0.6"/>
<line x1="330.44" y1="406.18" x2="330.44" y2="415.75" stroke="#333" stroke-width="0.6"/>
<line x1="329.24" y1="406.18" x2="331.64" y2="406.18" stroke="#333" stroke-width="0.6"/>
<line x1="329.24" y1="415.75" x2="331.64" y2="415.75" stroke="#333" stroke-width="0.6"/>
<circle cx="172.7" cy="433.4" r="1.7" fill="#fff" stroke="#000" stroke-width="0.85"/>
<circle cx="174" cy="436.9" r="1.7" fill="#fff" stroke="#000" stroke-width="0.85"/>
<circle cx="172.7" cy="445" r="1.7" fill="#fff" stroke="#000" stroke-width="0.85"/>
<circle cx="179.8" cy="401.3" r="1.7" fill="#fff" stroke="#000" stroke-width="0.85"/>
<circle cx="179.8" cy="412.9" r="1.7" fill="#fff" stroke="#000" stroke-width="0.85"/>
<circle cx="179.8" cy="425.7" r="1.7" fill="#fff" stroke="#000" stroke-width="0.85"/>
<circle cx="179.8" cy="435.3" r="1.7" fill="#fff" stroke="#000" stroke-width="0.85"/>
<circle cx="191" cy="453.6" r="1.7" fill="#fff" stroke="#000" stroke-width="0.85"/>
<circle cx="190.4" cy="457.5" r="1.7" fill="#fff" stroke="#000" stroke-width="0.85"/>
<circle cx="192" cy="459.4" r="1.7" fill="#fff" stroke="#000" stroke-width="0.85"/>
<circle cx="198.4" cy="439.8" r="1.7" fill="#fff" stroke="#000" stroke-width="0.85"/>
<circle cx="199" cy="443" r="1.7" fill="#fff" stroke="#000" stroke-width="0.85"/>
<circle cx="198.4" cy="448.2" r="1.7" fill="#fff" stroke="#000" stroke-width="0.85"/>
<circle cx="209.6" cy="446.2" r="1.7" fill="#fff" stroke="#000" stroke-width="0.85"/>
<circle cx="210.3" cy="455.9" r="1.7" fill="#fff" stroke="#000" stroke-width="0.85"/>
<circle cx="208.7" cy="456.8" r="1.7" fill="#fff" stroke="#000" stroke-width="0.85"/>
<circle cx="217.3" cy="415.7" r="1.7" fill="#fff" stroke="#000" stroke-width="0.85"/>
<circle cx="217.3" cy="425.7" r="1.7" fill="#fff" stroke="#000" stroke-width="0.85"/>
<circle cx="216.7" cy="436" r="1.7" fill="#fff" stroke="#000" stroke-width="0.85"/>
<circle cx="228.6" cy="457.8" r="1.7" fill="#fff" stroke="#000" stroke-width="0.85"/>
<circle cx="227.3" cy="459.4" r="1.7" fill="#fff" stroke="#000" stroke-width="0.85"/>
<circle cx="229.5" cy="460" r="1.7" fill="#fff" stroke="#000" stroke-width="0.85"/>
<circle cx="236" cy="449.5" r="1.7" fill="#fff" stroke="#000" stroke-width="0.85"/>
<circle cx="235.3" cy="455.2" r="1.7" fill="#fff" stroke="#000" stroke-width="0.85"/>
<circle cx="236.9" cy="456.8" r="1.7" fill="#fff" stroke="#000" stroke-width="0.85"/>
<circle cx="246.3" cy="453.6" r="1.7" fill="#fff" stroke="#000" stroke-width="0.85"/>
<circle cx="248.2" cy="453.6" r="1.7" fill="#fff" stroke="#000" stroke-width="0.85"/>
<circle cx="247.2" cy="454.6" r="1.7" fill="#fff" stroke="#000" stroke-width="0.85"/>
<circle cx="255.2" cy="440.8" r="1.7" fill="#fff" stroke="#000" stroke-width="0.85"/>
<circle cx="254.6" cy="444" r="1.7" fill="#fff" stroke="#000" stroke-width="0.85"/>
<circle cx="255.2" cy="453.6" r="1.7" fill="#fff" stroke="#000" stroke-width="0.85"/>
<circle cx="266.5" cy="453.6" r="1.7" fill="#fff" stroke="#000" stroke-width="0.85"/>
<circle cx="265.8" cy="456.2" r="1.7" fill="#fff" stroke="#000" stroke-width="0.85"/>
<circle cx="267.1" cy="458.4" r="1.7" fill="#fff" stroke="#000" stroke-width="0.85"/>
<circle cx="273.9" cy="444" r="1.7" fill="#fff" stroke="#000" stroke-width="0.85"/>
<circle cx="273.5" cy="448.8" r="1.7" fill="#fff" stroke="#000" stroke-width="0.85"/>
<circle cx="273.9" cy="451.4" r="1.7" fill="#fff" stroke="#000" stroke-width="0.85"/>
<circle cx="285.1" cy="449.5" r="1.7" fill="#fff" stroke="#000" stroke-width="0.85"/>
<circle cx="284.1" cy="453.6" r="1.7" fill="#fff" stroke="#000" stroke-width="0.85"/>
<circle cx="285.7" cy="455.2" r="1.7" fill="#fff" stroke="#000" stroke-width="0.85"/>
<circle cx="292.8" cy="414.1" r="1.7" fill="#fff" stroke="#000" stroke-width="0.85"/>
<circle cx="292.2" cy="427.9" r="1.7" fill="#fff" stroke="#000" stroke-width="0.85"/>
<circle cx="292.2" cy="434.4" r="1.7" fill="#fff" stroke="#000" stroke-width="0.85"/>
<circle cx="292.8" cy="444" r="1.7" fill="#fff" stroke="#000" stroke-width="0.85"/>
<circle cx="304.4" cy="440.1" r="1.7" fill="#fff" stroke="#000" stroke-width="0.85"/>
<circle cx="303.4" cy="445.6" r="1.7" fill="#fff" stroke="#000" stroke-width="0.85"/>
<circle cx="305" cy="450.4" r="1.7" fill="#fff" stroke="#000" stroke-width="0.85"/>
<circle cx="311.4" cy="411.2" r="1.7" fill="#fff" stroke="#000" stroke-width="0.85"/>
<circle cx="310.8" cy="416.7" r="1.7" fill="#fff" stroke="#000" stroke-width="0.85"/>
<circle cx="310.8" cy="426.3" r="1.7" fill="#fff" stroke="#000" stroke-width="0.85"/>
<circle cx="322.7" cy="423.8" r="1.7" fill="#fff" stroke="#000" stroke-width="0.85"/>
<circle cx="322.7" cy="440.8" r="1.7" fill="#fff" stroke="#000" stroke-width="0.85"/>
<circle cx="324.3" cy="444" r="1.7" fill="#fff" stroke="#000" stroke-width="0.85"/>
<circle cx="321.7" cy="445.6" r="1.7" fill="#fff" stroke="#000" stroke-width="0.85"/>
<circle cx="330.1" cy="390" r="1.7" fill="#fff" stroke="#000" stroke-width="0.85"/>
<circle cx="330.1" cy="406.1" r="1.7" fill="#fff" stroke="#000" stroke-width="0.85"/>
<circle cx="330.1" cy="414.1" r="1.7" fill="#fff" stroke="#000" stroke-width="0.85"/>
<circle cx="330.1" cy="432.1" r="1.7" fill="#fff" stroke="#000" stroke-width="0.85"/>
<text transform="translate(170.1 390.8) scale(0.9 1)" font-size="6.67" fill="#333">0.058</text>
<line x1="172.7" y1="392.8" x2="183" y2="392.8" stroke="#222" stroke-width="0.8"/>
<text transform="translate(187.8 422.2) scale(0.9 1)" font-size="6.67" fill="#333">0.0004</text>
<line x1="191" y1="425.2" x2="200" y2="425.2" stroke="#222" stroke-width="0.8"/>
<text transform="translate(206.1 409.4) scale(0.9 1)" font-size="6.67" fill="#333">0.007</text>
<line x1="209" y1="412" x2="219" y2="412" stroke="#222" stroke-width="0.8"/>
<text transform="translate(225.7 440.9) scale(0.9 1)" font-size="6.67" fill="#333">0.034</text>
<line x1="228" y1="442.9" x2="238" y2="442.9" stroke="#222" stroke-width="0.8"/>
<text transform="translate(244.6 426.1) scale(0.9 1)" font-size="6.67" fill="#333">0.051</text>
<line x1="247" y1="429" x2="257" y2="429" stroke="#222" stroke-width="0.8"/>
<text transform="translate(262.6 429.6) scale(0.9 1)" font-size="6.67" fill="#333">0.015</text>
<line x1="265.5" y1="433.9" x2="275.5" y2="433.9" stroke="#222" stroke-width="0.8"/>
<text transform="translate(283.5 404.6) scale(0.9 1)" font-size="6.67" fill="#333">0.013</text>
<line x1="285.5" y1="408.2" x2="296" y2="408.2" stroke="#222" stroke-width="0.8"/>
<text transform="translate(302.8 399.1) scale(0.9 1)" font-size="6.67" fill="#333">0.001</text>
<line x1="304.5" y1="402.7" x2="314.5" y2="402.7" stroke="#222" stroke-width="0.8"/>
<text transform="translate(320.4 383.7) scale(0.9 1)" font-size="6.67" fill="#333">0.029</text>
<line x1="322.5" y1="386.7" x2="332.5" y2="386.7" stroke="#222" stroke-width="0.8"/>
<text transform="translate(181.95 472.8) rotate(-45) scale(0.9 1)" font-size="8.89" text-anchor="end">16:0/18:2</text>
<text transform="translate(200.78 472.8) rotate(-45) scale(0.9 1)" font-size="8.89" text-anchor="end">16:0/22:4</text>
<text transform="translate(219.61 472.8) rotate(-45) scale(0.9 1)" font-size="8.89" text-anchor="end">16:0/22:5</text>
<text transform="translate(238.44 472.8) rotate(-45) scale(0.9 1)" font-size="8.89" text-anchor="end">18:1/20:2</text>
<text transform="translate(257.27 472.8) rotate(-45) scale(0.9 1)" font-size="8.89" text-anchor="end">18:1/18:2</text>
<text transform="translate(276.1 472.8) rotate(-45) scale(0.9 1)" font-size="8.89" text-anchor="end">18:1/20:4</text>
<text transform="translate(294.93 472.8) rotate(-45) scale(0.9 1)" font-size="8.89" text-anchor="end">16:0/20:2</text>
<text transform="translate(313.76 472.8) rotate(-45) scale(0.9 1)" font-size="8.89" text-anchor="end">16:0/20:3</text>
<text transform="translate(332.59 472.8) rotate(-45) scale(0.9 1)" font-size="8.89" text-anchor="end">16:0/20:4</text>
<text transform="translate(364.5 349.2) scale(0.95 1)" font-size="10.74" font-weight="bold" fill="#000">i</text>
<line x1="393.5" y1="367.75" x2="393.5" y2="463.8" stroke="#8a8a8a" stroke-width="0.95"/>
<line x1="390.5" y1="367.75" x2="393.5" y2="367.75" stroke="#8a8a8a" stroke-width="0.95"/>
<text transform="translate(386.9 371.11) scale(0.9 1)" font-size="8.89" text-anchor="end">50</text>
<line x1="390.5" y1="386.96" x2="393.5" y2="386.96" stroke="#8a8a8a" stroke-width="0.95"/>
<text transform="translate(386.9 390.32) scale(0.9 1)" font-size="8.89" text-anchor="end">40</text>
<line x1="390.5" y1="406.17" x2="393.5" y2="406.17" stroke="#8a8a8a" stroke-width="0.95"/>
<text transform="translate(386.9 409.53) scale(0.9 1)" font-size="8.89" text-anchor="end">30</text>
<line x1="390.5" y1="425.38" x2="393.5" y2="425.38" stroke="#8a8a8a" stroke-width="0.95"/>
<text transform="translate(386.9 428.74) scale(0.9 1)" font-size="8.89" text-anchor="end">20</text>
<line x1="390.5" y1="444.59" x2="393.5" y2="444.59" stroke="#8a8a8a" stroke-width="0.95"/>
<text transform="translate(386.9 447.95) scale(0.9 1)" font-size="8.89" text-anchor="end">10</text>
<line x1="390.5" y1="463.8" x2="393.5" y2="463.8" stroke="#8a8a8a" stroke-width="0.95"/>
<text transform="translate(386.9 467.16) scale(0.9 1)" font-size="8.89" text-anchor="end">0</text>
<text transform="translate(372.6 416) rotate(-90) scale(0.9 1)" font-size="8.89" text-anchor="middle">ER extension (a.u.)</text>
<line x1="393.5" y1="463.8" x2="490" y2="463.8" stroke="#8a8a8a" stroke-width="0.95"/>
<line x1="408.6" y1="463.8" x2="408.6" y2="466.8" stroke="#8a8a8a" stroke-width="0.95"/>
<line x1="430.8" y1="463.8" x2="430.8" y2="466.8" stroke="#8a8a8a" stroke-width="0.95"/>
<line x1="453.2" y1="463.8" x2="453.2" y2="466.8" stroke="#8a8a8a" stroke-width="0.95"/>
<line x1="475.5" y1="463.8" x2="475.5" y2="466.8" stroke="#8a8a8a" stroke-width="0.95"/>
<line x1="408.5" y1="392.53" x2="408.5" y2="418.46" stroke="#000" stroke-width="0.8"/>
<line x1="406" y1="392.53" x2="411" y2="392.53" stroke="#000" stroke-width="0.8"/>
<line x1="408.5" y1="436.91" x2="408.5" y2="456.12" stroke="#000" stroke-width="0.8"/>
<line x1="406" y1="456.12" x2="411" y2="456.12" stroke="#000" stroke-width="0.8"/>
<rect x="401.35" y="418.46" width="14.3" height="18.44" fill="#fff" stroke="#000" stroke-width="0.8"/>
<line x1="401.35" y1="434.02" x2="415.65" y2="434.02" stroke="#000" stroke-width="0.9"/>
<circle cx="406.3" cy="395.41" r="1.8" fill="#fff" stroke="#000" stroke-width="1.0"/>
<circle cx="410.6" cy="392.53" r="1.8" fill="#fff" stroke="#000" stroke-width="1.0"/>
<circle cx="408.5" cy="412.7" r="1.8" fill="#fff" stroke="#000" stroke-width="1.0"/>
<circle cx="410.2" cy="419.62" r="1.8" fill="#fff" stroke="#000" stroke-width="1.0"/>
<circle cx="407.1" cy="423.07" r="1.8" fill="#fff" stroke="#000" stroke-width="1.0"/>
<circle cx="408.8" cy="426.92" r="1.8" fill="#fff" stroke="#000" stroke-width="1.0"/>
<circle cx="403.5" cy="432.68" r="1.8" fill="#fff" stroke="#000" stroke-width="1.0"/>
<circle cx="407.1" cy="434.02" r="1.8" fill="#fff" stroke="#000" stroke-width="1.0"/>
<circle cx="410.6" cy="436.14" r="1.8" fill="#fff" stroke="#000" stroke-width="1.0"/>
<circle cx="413.9" cy="438.25" r="1.8" fill="#fff" stroke="#000" stroke-width="1.0"/>
<circle cx="405.7" cy="435.37" r="1.8" fill="#fff" stroke="#000" stroke-width="1.0"/>
<circle cx="408.5" cy="442.09" r="1.8" fill="#fff" stroke="#000" stroke-width="1.0"/>
<circle cx="408.5" cy="448.24" r="1.8" fill="#fff" stroke="#000" stroke-width="1.0"/>
<circle cx="408.5" cy="456.12" r="1.8" fill="#fff" stroke="#000" stroke-width="1.0"/>
<line x1="430.9" y1="393.11" x2="430.9" y2="415.39" stroke="#000" stroke-width="0.8"/>
<line x1="428.4" y1="393.11" x2="433.4" y2="393.11" stroke="#000" stroke-width="0.8"/>
<line x1="430.9" y1="434.02" x2="430.9" y2="449.78" stroke="#000" stroke-width="0.8"/>
<line x1="428.4" y1="449.78" x2="433.4" y2="449.78" stroke="#000" stroke-width="0.8"/>
<rect x="423.65" y="415.39" width="14.5" height="18.63" fill="#dcdcdc" stroke="#000" stroke-width="0.8"/>
<line x1="423.65" y1="423.07" x2="438.15" y2="423.07" stroke="#000" stroke-width="0.9"/>
<circle cx="428.5" cy="393.11" r="1.8" fill="#fff" stroke="#000" stroke-width="1.0"/>
<circle cx="433.4" cy="395.41" r="1.8" fill="#fff" stroke="#000" stroke-width="1.0"/>
<circle cx="425.6" cy="415.39" r="1.8" fill="#fff" stroke="#000" stroke-width="1.0"/>
<circle cx="431.3" cy="416.93" r="1.8" fill="#fff" stroke="#000" stroke-width="1.0"/>
<circle cx="436.2" cy="412.7" r="1.8" fill="#fff" stroke="#000" stroke-width="1.0"/>
<circle cx="425.6" cy="423.07" r="1.8" fill="#fff" stroke="#000" stroke-width="1.0"/>
<circle cx="431.3" cy="421.92" r="1.8" fill="#fff" stroke="#000" stroke-width="1.0"/>
<circle cx="436.2" cy="420.96" r="1.8" fill="#fff" stroke="#000" stroke-width="1.0"/>
<circle cx="428.5" cy="429.8" r="1.8" fill="#fff" stroke="#000" stroke-width="1.0"/>
<circle cx="433.4" cy="429.8" r="1.8" fill="#fff" stroke="#000" stroke-width="1.0"/>
<circle cx="431.3" cy="434.79" r="1.8" fill="#fff" stroke="#000" stroke-width="1.0"/>
<circle cx="436.2" cy="434.79" r="1.8" fill="#fff" stroke="#000" stroke-width="1.0"/>
<circle cx="431.3" cy="442.86" r="1.8" fill="#fff" stroke="#000" stroke-width="1.0"/>
<circle cx="431.3" cy="449.78" r="1.8" fill="#fff" stroke="#000" stroke-width="1.0"/>
<line x1="453.1" y1="380.24" x2="453.1" y2="402.71" stroke="#000" stroke-width="0.8"/>
<line x1="450.6" y1="380.24" x2="455.6" y2="380.24" stroke="#000" stroke-width="0.8"/>
<line x1="453.1" y1="419.81" x2="453.1" y2="433.45" stroke="#000" stroke-width="0.8"/>
<line x1="450.6" y1="433.45" x2="455.6" y2="433.45" stroke="#000" stroke-width="0.8"/>
<rect x="446" y="402.71" width="14.2" height="17.1" fill="#ff2600" stroke="#000" stroke-width="0.8"/>
<line x1="446" y1="413.47" x2="460.2" y2="413.47" stroke="#000" stroke-width="0.9"/>
<circle cx="453.1" cy="380.24" r="1.8" fill="#fff" stroke="#000" stroke-width="1.0"/>
<circle cx="453.1" cy="384.65" r="1.8" fill="#fff" stroke="#000" stroke-width="1.0"/>
<circle cx="453.1" cy="399.25" r="1.8" fill="#fff" stroke="#000" stroke-width="1.0"/>
<circle cx="456.2" cy="403.1" r="1.8" fill="#fff" stroke="#000" stroke-width="1.0"/>
<circle cx="453.7" cy="404.83" r="1.8" fill="#fff" stroke="#000" stroke-width="1.0"/>
<circle cx="449.8" cy="406.75" r="1.8" fill="#fff" stroke="#000" stroke-width="1.0"/>
<circle cx="453.1" cy="409.24" r="1.8" fill="#fff" stroke="#000" stroke-width="1.0"/>
<circle cx="450.5" cy="419.04" r="1.8" fill="#fff" stroke="#000" stroke-width="1.0"/>
<circle cx="456.2" cy="420.58" r="1.8" fill="#fff" stroke="#000" stroke-width="1.0"/>
<circle cx="447.7" cy="421.35" r="1.8" fill="#fff" stroke="#000" stroke-width="1.0"/>
<circle cx="453.4" cy="422.69" r="1.8" fill="#fff" stroke="#000" stroke-width="1.0"/>
<circle cx="458.8" cy="421.35" r="1.8" fill="#fff" stroke="#000" stroke-width="1.0"/>
<circle cx="453.1" cy="433.45" r="1.8" fill="#fff" stroke="#000" stroke-width="1.0"/>
<line x1="475.5" y1="395.41" x2="475.5" y2="404.83" stroke="#000" stroke-width="0.8"/>
<line x1="473" y1="395.41" x2="478" y2="395.41" stroke="#000" stroke-width="0.8"/>
<line x1="475.5" y1="436.91" x2="475.5" y2="449.2" stroke="#000" stroke-width="0.8"/>
<line x1="473" y1="449.2" x2="478" y2="449.2" stroke="#000" stroke-width="0.8"/>
<rect x="468.4" y="404.83" width="14.2" height="32.08" fill="#02168f" stroke="#000" stroke-width="0.8"/>
<line x1="468.4" y1="430.57" x2="482.6" y2="430.57" stroke="#000" stroke-width="0.9"/>
<circle cx="475.5" cy="395.41" r="1.8" fill="#fff" stroke="#000" stroke-width="1.0"/>
<circle cx="469.8" cy="404.83" r="1.8" fill="#fff" stroke="#000" stroke-width="1.0"/>
<circle cx="481.2" cy="404.83" r="1.8" fill="#fff" stroke="#000" stroke-width="1.0"/>
<circle cx="473.4" cy="407.71" r="1.8" fill="#fff" stroke="#000" stroke-width="1.0"/>
<circle cx="477.6" cy="407.71" r="1.8" fill="#fff" stroke="#000" stroke-width="1.0"/>
<circle cx="475.5" cy="420.19" r="1.8" fill="#fff" stroke="#000" stroke-width="1.0"/>
<circle cx="475.5" cy="427.69" r="1.8" fill="#fff" stroke="#000" stroke-width="1.0"/>
<circle cx="473.7" cy="432.68" r="1.8" fill="#fff" stroke="#000" stroke-width="1.0"/>
<circle cx="469.8" cy="436.71" r="1.8" fill="#fff" stroke="#000" stroke-width="1.0"/>
<circle cx="474.1" cy="436.71" r="1.8" fill="#fff" stroke="#000" stroke-width="1.0"/>
<circle cx="477.6" cy="436.71" r="1.8" fill="#fff" stroke="#000" stroke-width="1.0"/>
<circle cx="481.2" cy="436.71" r="1.8" fill="#fff" stroke="#000" stroke-width="1.0"/>
<circle cx="473.7" cy="439.79" r="1.8" fill="#fff" stroke="#000" stroke-width="1.0"/>
<circle cx="473.4" cy="449.2" r="1.8" fill="#fff" stroke="#000" stroke-width="1.0"/>
<circle cx="477.6" cy="449.2" r="1.8" fill="#fff" stroke="#000" stroke-width="1.0"/>
<line x1="406.8" y1="356.2" x2="480.1" y2="356.2" stroke="#000" stroke-width="1.15"/>
<text transform="translate(426.6 352.4) scale(0.9 1)" font-size="7.22" fill="#222"><tspan font-style="italic">P</tspan> = 0.688</text>
<line x1="406.8" y1="368.2" x2="448.3" y2="368.2" stroke="#000" stroke-width="1.15"/>
<text transform="translate(411.3 365.6) scale(0.9 1)" font-size="7.22" fill="#222"><tspan font-style="italic">P</tspan> = 0.0099</text>
<line x1="452.1" y1="374.1" x2="480.1" y2="374.1" stroke="#666" stroke-width="1.3"/>
<text transform="translate(449.6 371.3) scale(0.9 1)" font-size="7.22" fill="#222"><tspan font-style="italic">P</tspan> = 0.0247</text>
<text transform="translate(413.4 474.3) rotate(-45) scale(0.9 1)" font-size="8.89" text-anchor="end">EV</text>
<text transform="translate(435.6 474.3) rotate(-45) scale(0.9 1)" font-size="8.89" text-anchor="end">LPCAT3</text>
<text transform="translate(458 474.3) rotate(-45) scale(0.9 1)" font-size="8.89" text-anchor="end">EV CM</text>
<text transform="translate(480.3 474.3) rotate(-45) scale(0.9 1)" font-size="8.89" text-anchor="end">LPCAT3 CM</text>
<text transform="translate(505.8 350.2) scale(0.95 1)" font-size="10.74" font-weight="bold" fill="#000">j</text>
<text transform="translate(570.9 362.3) scale(0.9 1)" font-size="8.44" text-anchor="middle" font-style="italic">sXBP1</text>
<line x1="541.1" y1="375.45" x2="541.1" y2="464.1" stroke="#8a8a8a" stroke-width="0.95"/>
<line x1="538.1" y1="375.45" x2="541.1" y2="375.45" stroke="#8a8a8a" stroke-width="0.95"/>
<text transform="translate(534.5 378.81) scale(0.9 1)" font-size="8.89" text-anchor="end">3</text>
<line x1="538.1" y1="405" x2="541.1" y2="405" stroke="#8a8a8a" stroke-width="0.95"/>
<text transform="translate(534.5 408.36) scale(0.9 1)" font-size="8.89" text-anchor="end">2</text>
<line x1="538.1" y1="434.55" x2="541.1" y2="434.55" stroke="#8a8a8a" stroke-width="0.95"/>
<text transform="translate(534.5 437.91) scale(0.9 1)" font-size="8.89" text-anchor="end">1</text>
<line x1="538.1" y1="464.1" x2="541.1" y2="464.1" stroke="#8a8a8a" stroke-width="0.95"/>
<text transform="translate(534.5 467.46) scale(0.9 1)" font-size="8.89" text-anchor="end">0</text>
<text transform="translate(513.5 419.8) rotate(-90) scale(0.9 1)" font-size="8.67" text-anchor="middle">Relative fold change in</text>
<text transform="translate(522.6 419.8) rotate(-90) scale(0.9 1)" font-size="8.67" text-anchor="middle">mRNA expression</text>
<rect x="545.2" y="438.39" width="7.9" height="25.71" fill="#000"/>
<rect x="557.1" y="438.39" width="7.8" height="25.71" fill="#000"/>
<rect x="576.9" y="402.93" width="7.5" height="61.17" fill="#ff2600"/>
<rect x="588.5" y="423.32" width="7.7" height="40.78" fill="#ff2600"/>
<line x1="541" y1="464.1" x2="600" y2="464.1" stroke="#8a8a8a" stroke-width="0.95"/>
<line x1="549.1" y1="464.1" x2="549.1" y2="467.1" stroke="#8a8a8a" stroke-width="0.95"/>
<line x1="561" y1="464.1" x2="561" y2="467.1" stroke="#8a8a8a" stroke-width="0.95"/>
<line x1="580.6" y1="464.1" x2="580.6" y2="467.1" stroke="#8a8a8a" stroke-width="0.95"/>
<line x1="592.3" y1="464.1" x2="592.3" y2="467.1" stroke="#8a8a8a" stroke-width="0.95"/>
<line x1="549.1" y1="434.55" x2="549.1" y2="441.94" stroke="#000" stroke-width="0.75"/>
<line x1="547.1" y1="434.55" x2="551.1" y2="434.55" stroke="#000" stroke-width="0.75"/>
<line x1="547.1" y1="441.94" x2="551.1" y2="441.94" stroke="#000" stroke-width="0.75"/>
<line x1="561" y1="435.44" x2="561" y2="441.05" stroke="#000" stroke-width="0.75"/>
<line x1="559" y1="435.44" x2="563" y2="435.44" stroke="#000" stroke-width="0.75"/>
<line x1="559" y1="441.05" x2="563" y2="441.05" stroke="#000" stroke-width="0.75"/>
<line x1="580.6" y1="397.61" x2="580.6" y2="409.43" stroke="#000" stroke-width="0.75"/>
<line x1="578.6" y1="397.61" x2="582.6" y2="397.61" stroke="#000" stroke-width="0.75"/>
<line x1="578.6" y1="409.43" x2="582.6" y2="409.43" stroke="#000" stroke-width="0.75"/>
<line x1="592.3" y1="416.82" x2="592.3" y2="429.53" stroke="#000" stroke-width="0.75"/>
<line x1="590.3" y1="416.82" x2="594.3" y2="416.82" stroke="#000" stroke-width="0.75"/>
<line x1="590.3" y1="429.53" x2="594.3" y2="429.53" stroke="#000" stroke-width="0.75"/>
<circle cx="546.7" cy="430.5" r="1.75" fill="#fff" stroke="#000" stroke-width="1.0"/>
<circle cx="549.4" cy="436.7" r="1.75" fill="#fff" stroke="#000" stroke-width="1.0"/>
<circle cx="547.3" cy="439.4" r="1.75" fill="#fff" stroke="#000" stroke-width="1.0"/>
<circle cx="552.1" cy="433.2" r="1.75" fill="#fff" stroke="#000" stroke-width="1.0"/>
<circle cx="548.6" cy="446.7" r="1.75" fill="#fff" stroke="#000" stroke-width="1.0"/>
<circle cx="561.6" cy="427.8" r="1.75" fill="#fff" stroke="#000" stroke-width="1.0"/>
<circle cx="558.9" cy="433.4" r="1.75" fill="#fff" stroke="#000" stroke-width="1.0"/>
<circle cx="562.9" cy="434" r="1.75" fill="#fff" stroke="#000" stroke-width="1.0"/>
<circle cx="558.1" cy="439.4" r="1.75" fill="#fff" stroke="#000" stroke-width="1.0"/>
<circle cx="561.6" cy="443.4" r="1.75" fill="#fff" stroke="#000" stroke-width="1.0"/>
<circle cx="559.4" cy="446.1" r="1.75" fill="#fff" stroke="#000" stroke-width="1.0"/>
<circle cx="580.2" cy="380.8" r="1.75" fill="#fff" stroke="#000" stroke-width="1.0"/>
<circle cx="578.9" cy="401.6" r="1.75" fill="#fff" stroke="#000" stroke-width="1.0"/>
<circle cx="581.8" cy="401.6" r="1.75" fill="#fff" stroke="#000" stroke-width="1.0"/>
<circle cx="580.2" cy="404.3" r="1.75" fill="#fff" stroke="#000" stroke-width="1.0"/>
<circle cx="580.2" cy="427.8" r="1.75" fill="#fff" stroke="#000" stroke-width="1.0"/>
<circle cx="582.5" cy="399.5" r="1.75" fill="#fff" stroke="#000" stroke-width="1.0"/>
<circle cx="592.4" cy="400.8" r="1.75" fill="#fff" stroke="#000" stroke-width="1.0"/>
<circle cx="592.4" cy="408.9" r="1.75" fill="#fff" stroke="#000" stroke-width="1.0"/>
<circle cx="592.4" cy="423.2" r="1.75" fill="#fff" stroke="#000" stroke-width="1.0"/>
<circle cx="592.4" cy="430.5" r="1.75" fill="#fff" stroke="#000" stroke-width="1.0"/>
<circle cx="592.4" cy="435.9" r="1.75" fill="#fff" stroke="#000" stroke-width="1.0"/>
<circle cx="592.4" cy="441.3" r="1.75" fill="#fff" stroke="#000" stroke-width="1.0"/>
<line x1="580.5" y1="375.9" x2="596.7" y2="375.9" stroke="#111" stroke-width="0.9"/>
<text transform="translate(575.1 374.4) scale(0.9 1)" font-size="7.22" fill="#222"><tspan font-style="italic">P</tspan> = 0.048</text>
<rect x="620.2" y="378" width="10.8" height="6.8" fill="#000"/>
<text transform="translate(633.7 384.6) scale(0.9 1)" font-size="8.89">Ctrl</text>
<rect x="620.2" y="390.8" width="10.8" height="6.7" fill="#ff2600"/>
<text transform="translate(633.7 397.3) scale(0.9 1)" font-size="8.89">CM</text>
<text transform="translate(553.5 474.6) rotate(-45) scale(0.9 1)" font-size="8.78" text-anchor="end">EV</text>
<text transform="translate(565.4 474.6) rotate(-45) scale(0.9 1)" font-size="8.78" text-anchor="end">LPCAT3</text>
<text transform="translate(585 474.6) rotate(-45) scale(0.9 1)" font-size="8.78" text-anchor="end">EV</text>
<text transform="translate(596.7 474.6) rotate(-45) scale(0.9 1)" font-size="8.78" text-anchor="end">LPCAT3</text>
<text transform="translate(35.6 528.2) scale(0.95 1)" font-size="10.74" font-weight="bold" fill="#000">k</text>
<text transform="translate(75.6 566.9) rotate(-90) scale(0.9 1)" font-size="8.33">EV</text>
<text transform="translate(92 566.9) rotate(-90) scale(0.9 1)" font-size="8.33">LPCAT3</text>
<text transform="translate(107.3 566.9) rotate(-90) scale(0.9 1)" font-size="8.33">EV CM</text>
<text transform="translate(123.1 566.9) rotate(-90) scale(0.9 1)" font-size="8.33">LPCAT3 CM</text>
<text transform="translate(139 566.9) rotate(-90) scale(0.9 1)" font-size="8.33">TM</text>
<line x1="66.3" y1="569.6" x2="146.7" y2="569.6" stroke="#bbb" stroke-width="0.6"/>
<defs><filter id="bl" x="-20%" y="-80%" width="140%" height="260%" color-interpolation-filters="sRGB"><feGaussianBlur stdDeviation="0.75"/></filter><filter id="bl2" x="-20%" y="-50%" width="140%" height="200%" color-interpolation-filters="sRGB"><feGaussianBlur stdDeviation="1.0"/></filter></defs>
<rect x="59.9" y="575.8" width="87.1" height="19.3" fill="#d0d0d0"/>
<rect x="59.9" y="609.2" width="87.1" height="17.2" fill="#cecece"/>
<rect x="66.5" y="587.8" width="11.5" height="2" rx="1" fill="#a4a4a4" opacity="1.0" filter="url(#bl)"/>
<rect x="82.6" y="588.65" width="10.7" height="1.9" rx="0.95" fill="#b2b2b2" opacity="1.0" filter="url(#bl)"/>
<rect x="97.2" y="588.5" width="11.4" height="2.6" rx="1.3" fill="#4c4c4c" opacity="1.0" filter="url(#bl)"/>
<rect x="113" y="588.7" width="11.7" height="2" rx="1" fill="#939393" opacity="1.0" filter="url(#bl)"/>
<rect x="130" y="588" width="10.8" height="2" rx="1" fill="#b0b0b0" opacity="1.0" filter="url(#bl)"/>
<rect x="67" y="583.2" width="10" height="1.6" rx="0.8" fill="#c6c6c6" opacity="1.0" filter="url(#bl)"/>
<rect x="83" y="583.2" width="10" height="1.6" rx="0.8" fill="#c8c8c8" opacity="1.0" filter="url(#bl)"/>
<rect x="98" y="582.8" width="10.6" height="2" rx="1" fill="#a6a6a6" opacity="1.0" filter="url(#bl)"/>
<rect x="114" y="583.2" width="10" height="1.6" rx="0.8" fill="#c6c6c6" opacity="1.0" filter="url(#bl)"/>
<rect x="127.6" y="579.2" width="16.6" height="8.4" rx="4.2" fill="#1c1c1c" opacity="1.0" filter="url(#bl2)"/>
<rect x="70.3" y="616.25" width="12.7" height="2.5" rx="1.25" fill="#262626" opacity="1.0" filter="url(#bl)"/>
<rect x="86.4" y="616.15" width="10.8" height="2.5" rx="1.25" fill="#2a2a2a" opacity="1.0" filter="url(#bl)"/>
<rect x="101.8" y="615.8" width="11.4" height="2.8" rx="1.4" fill="#202020" opacity="1.0" filter="url(#bl)"/>
<rect x="116.3" y="616.15" width="12.7" height="2.9" rx="1.45" fill="#222222" opacity="1.0" filter="url(#bl)"/>
<rect x="131.6" y="616.45" width="12.3" height="2.5" rx="1.25" fill="#282828" opacity="1.0" filter="url(#bl)"/>
<text transform="translate(33 588) scale(0.9 1)" font-size="8.56">sXBP1</text>
<text transform="translate(32.2 620.2) scale(0.9 1)" font-size="8.56">Tubulin</text>
<line x1="147.4" y1="588.7" x2="154.1" y2="588.7" stroke="#000" stroke-width="0.8"/>
<text transform="translate(155.8 591.6) scale(0.9 1)" font-size="8.89">55</text>
<line x1="147.4" y1="615.5" x2="154.1" y2="615.5" stroke="#000" stroke-width="0.8"/>
<text transform="translate(155.8 618.6) scale(0.9 1)" font-size="8.89">55</text>
<line x1="210.4" y1="558.3" x2="210.4" y2="626.3" stroke="#8a8a8a" stroke-width="0.95"/>
<line x1="207.4" y1="558.3" x2="210.4" y2="558.3" stroke="#8a8a8a" stroke-width="0.95"/>
<text transform="translate(204.4 561.7) scale(0.9 1)" font-size="9" text-anchor="end">0.25</text>
<line x1="207.4" y1="571.9" x2="210.4" y2="571.9" stroke="#8a8a8a" stroke-width="0.95"/>
<text transform="translate(204.4 575.3) scale(0.9 1)" font-size="9" text-anchor="end">0.20</text>
<line x1="207.4" y1="585.5" x2="210.4" y2="585.5" stroke="#8a8a8a" stroke-width="0.95"/>
<text transform="translate(204.4 588.9) scale(0.9 1)" font-size="9" text-anchor="end">0.15</text>
<line x1="207.4" y1="599.1" x2="210.4" y2="599.1" stroke="#8a8a8a" stroke-width="0.95"/>
<text transform="translate(204.4 602.5) scale(0.9 1)" font-size="9" text-anchor="end">0.10</text>
<line x1="207.4" y1="612.7" x2="210.4" y2="612.7" stroke="#8a8a8a" stroke-width="0.95"/>
<text transform="translate(204.4 616.1) scale(0.9 1)" font-size="9" text-anchor="end">0.05</text>
<line x1="207.4" y1="626.3" x2="210.4" y2="626.3" stroke="#8a8a8a" stroke-width="0.95"/>
<text transform="translate(204.4 629.7) scale(0.9 1)" font-size="9" text-anchor="end">0</text>
<text transform="translate(181.6 592.6) rotate(-90) scale(0.9 1)" font-size="8.89" text-anchor="middle">sXBP1/actin (a.u.)</text>
<rect x="216" y="613.24" width="9.9" height="13.06" fill="#fff" stroke="#111" stroke-width="1.1"/>
<rect x="231.6" y="601.55" width="9.9" height="24.75" fill="#fff" stroke="#111" stroke-width="1.1"/>
<rect x="247.4" y="579.24" width="9.9" height="47.06" fill="#fff" stroke="#111" stroke-width="1.1"/>
<rect x="263" y="599.64" width="10.1" height="26.66" fill="#fff" stroke="#111" stroke-width="1.1"/>
<line x1="210.1" y1="626.3" x2="278.2" y2="626.3" stroke="#8a8a8a" stroke-width="0.95"/>
<line x1="220.9" y1="626.3" x2="220.9" y2="629.3" stroke="#8a8a8a" stroke-width="0.95"/>
<line x1="236.5" y1="626.3" x2="236.5" y2="629.3" stroke="#8a8a8a" stroke-width="0.95"/>
<line x1="252.3" y1="626.3" x2="252.3" y2="629.3" stroke="#8a8a8a" stroke-width="0.95"/>
<line x1="268" y1="626.3" x2="268" y2="629.3" stroke="#8a8a8a" stroke-width="0.95"/>
<line x1="220.9" y1="608" x2="220.9" y2="617.5" stroke="#111" stroke-width="0.75"/>
<line x1="218.7" y1="608" x2="223.1" y2="608" stroke="#111" stroke-width="0.75"/>
<line x1="218.7" y1="617.5" x2="223.1" y2="617.5" stroke="#111" stroke-width="0.75"/>
<line x1="236.5" y1="595.4" x2="236.5" y2="607" stroke="#111" stroke-width="0.75"/>
<line x1="234.3" y1="595.4" x2="238.7" y2="595.4" stroke="#111" stroke-width="0.75"/>
<line x1="234.3" y1="607" x2="238.7" y2="607" stroke="#111" stroke-width="0.75"/>
<line x1="252.3" y1="570" x2="252.3" y2="588" stroke="#111" stroke-width="0.75"/>
<line x1="250.1" y1="570" x2="254.5" y2="570" stroke="#111" stroke-width="0.75"/>
<line x1="250.1" y1="588" x2="254.5" y2="588" stroke="#111" stroke-width="0.75"/>
<line x1="268" y1="594" x2="268" y2="604" stroke="#111" stroke-width="0.75"/>
<line x1="265.8" y1="594" x2="270.2" y2="594" stroke="#111" stroke-width="0.75"/>
<line x1="265.8" y1="604" x2="270.2" y2="604" stroke="#111" stroke-width="0.75"/>
<circle cx="220.8" cy="604.3" r="1.25" fill="#000" stroke="#000" stroke-width="0.3"/>
<circle cx="220.8" cy="620" r="1.25" fill="#000" stroke="#000" stroke-width="0.3"/>
<circle cx="236.6" cy="591.4" r="1.25" fill="#000" stroke="#000" stroke-width="0.3"/>
<circle cx="236.6" cy="601.9" r="1.25" fill="#000" stroke="#000" stroke-width="0.3"/>
<circle cx="236.6" cy="609.1" r="1.25" fill="#000" stroke="#000" stroke-width="0.3"/>
<circle cx="252.2" cy="562.5" r="1.25" fill="#000" stroke="#000" stroke-width="0.3"/>
<circle cx="252.2" cy="581.5" r="1.25" fill="#000" stroke="#000" stroke-width="0.3"/>
<circle cx="252.2" cy="592.3" r="1.25" fill="#000" stroke="#000" stroke-width="0.3"/>
<circle cx="267.8" cy="591.4" r="1.25" fill="#000" stroke="#000" stroke-width="0.3"/>
<circle cx="267.8" cy="600.5" r="1.25" fill="#000" stroke="#000" stroke-width="0.3"/>
<circle cx="267.8" cy="606.6" r="1.25" fill="#000" stroke="#000" stroke-width="0.3"/>
<path d="M220.6,600.5 V554.4 H251 V558.6" fill="none" stroke="#333" stroke-width="0.8"/>
<path d="M253.2,558.6 V554.4 H267.9 V585.7" fill="none" stroke="#333" stroke-width="0.8"/>
<path d="M236.4,545 V541.7 H267.9 V545" fill="none" stroke="#333" stroke-width="0.8"/>
<text transform="translate(235.8 551.9) scale(0.9 1)" font-size="5.11" text-anchor="middle" fill="#333">0.0125</text>
<text transform="translate(260.5 551.9) scale(0.9 1)" font-size="5.11" text-anchor="middle" fill="#333">0.1301</text>
<text transform="translate(252.1 538.6) scale(0.9 1)" font-size="5.11" text-anchor="middle" fill="#333">0.0942</text>
<text transform="translate(225.8 635.5) rotate(-45) scale(0.9 1)" font-size="8.78" text-anchor="end">EV Ctrl</text>
<text transform="translate(241.4 635.5) rotate(-45) scale(0.9 1)" font-size="8.78" text-anchor="end">LPCAT3 Ctrl</text>
<text transform="translate(257.2 635.5) rotate(-45) scale(0.9 1)" font-size="8.78" text-anchor="end">EV CM</text>
<text transform="translate(272.9 635.5) rotate(-45) scale(0.9 1)" font-size="8.78" text-anchor="end">LPCAT3 CM</text>
<text transform="translate(340.5 527.8) scale(0.95 1)" font-size="10.74" font-weight="bold" fill="#000">l</text>
<text transform="translate(405.3 532) scale(0.9 1)" font-size="8.89" text-anchor="middle" font-style="italic">Arg1</text>
<line x1="373.6" y1="542.4" x2="373.6" y2="636.1" stroke="#8a8a8a" stroke-width="0.95"/>
<line x1="370.6" y1="542.4" x2="373.6" y2="542.4" stroke="#8a8a8a" stroke-width="0.95"/>
<text transform="translate(367 545.76) scale(0.9 1)" font-size="8.89" text-anchor="end">20</text>
<line x1="370.6" y1="565.83" x2="373.6" y2="565.83" stroke="#8a8a8a" stroke-width="0.95"/>
<text transform="translate(367 569.19) scale(0.9 1)" font-size="8.89" text-anchor="end">15</text>
<line x1="370.6" y1="589.25" x2="373.6" y2="589.25" stroke="#8a8a8a" stroke-width="0.95"/>
<text transform="translate(367 592.61) scale(0.9 1)" font-size="8.89" text-anchor="end">10</text>
<line x1="370.6" y1="612.68" x2="373.6" y2="612.68" stroke="#8a8a8a" stroke-width="0.95"/>
<text transform="translate(367 616.04) scale(0.9 1)" font-size="8.89" text-anchor="end">5</text>
<line x1="370.6" y1="636.1" x2="373.6" y2="636.1" stroke="#8a8a8a" stroke-width="0.95"/>
<text transform="translate(367 639.46) scale(0.9 1)" font-size="8.89" text-anchor="end">0</text>
<text transform="translate(341.6 588.2) rotate(-90) scale(0.9 1)" font-size="8.78" text-anchor="middle">Relative fold change in</text>
<text transform="translate(350.8 588.2) rotate(-90) scale(0.9 1)" font-size="8.78" text-anchor="middle">mRNA expression</text>
<rect x="377.2" y="632.59" width="8.3" height="3.51" fill="#000"/>
<rect x="389.6" y="631.88" width="8.9" height="4.22" fill="#000"/>
<rect x="410.4" y="585.27" width="8.9" height="50.83" fill="#ff2600"/>
<rect x="423.5" y="617.13" width="8.6" height="18.97" fill="#ff2600"/>
<line x1="373.6" y1="636.1" x2="435.6" y2="636.1" stroke="#8a8a8a" stroke-width="0.95"/>
<line x1="381.4" y1="636.1" x2="381.4" y2="639.1" stroke="#8a8a8a" stroke-width="0.95"/>
<line x1="394.3" y1="636.1" x2="394.3" y2="639.1" stroke="#8a8a8a" stroke-width="0.95"/>
<line x1="415.3" y1="636.1" x2="415.3" y2="639.1" stroke="#8a8a8a" stroke-width="0.95"/>
<line x1="427.5" y1="636.1" x2="427.5" y2="639.1" stroke="#8a8a8a" stroke-width="0.95"/>
<line x1="414.8" y1="576.6" x2="414.8" y2="592" stroke="#000" stroke-width="0.75"/>
<line x1="412.6" y1="576.6" x2="417" y2="576.6" stroke="#000" stroke-width="0.75"/>
<line x1="412.6" y1="592" x2="417" y2="592" stroke="#000" stroke-width="0.75"/>
<line x1="427.8" y1="611.8" x2="427.8" y2="620" stroke="#000" stroke-width="0.75"/>
<line x1="425.6" y1="611.8" x2="430" y2="611.8" stroke="#000" stroke-width="0.75"/>
<line x1="425.6" y1="620" x2="430" y2="620" stroke="#000" stroke-width="0.75"/>
<circle cx="379.4" cy="629.8" r="1.8" fill="#fff" stroke="#000" stroke-width="1.0"/>
<circle cx="382.2" cy="630.4" r="1.8" fill="#fff" stroke="#000" stroke-width="1.0"/>
<circle cx="379.9" cy="632.6" r="1.8" fill="#fff" stroke="#000" stroke-width="1.0"/>
<circle cx="384" cy="631.5" r="1.8" fill="#fff" stroke="#000" stroke-width="1.0"/>
<circle cx="393.8" cy="622.9" r="1.8" fill="#fff" stroke="#000" stroke-width="1.0"/>
<circle cx="391.6" cy="629.8" r="1.8" fill="#fff" stroke="#000" stroke-width="1.0"/>
<circle cx="395.2" cy="631.2" r="1.8" fill="#fff" stroke="#000" stroke-width="1.0"/>
<circle cx="393" cy="632" r="1.8" fill="#fff" stroke="#000" stroke-width="1.0"/>
<circle cx="415.4" cy="556.3" r="1.8" fill="#fff" stroke="#000" stroke-width="1.0"/>
<circle cx="415.4" cy="565.5" r="1.8" fill="#fff" stroke="#000" stroke-width="1.0"/>
<circle cx="413.2" cy="582.7" r="1.8" fill="#fff" stroke="#000" stroke-width="1.0"/>
<circle cx="416" cy="586.8" r="1.8" fill="#fff" stroke="#000" stroke-width="1.0"/>
<circle cx="414.6" cy="595.2" r="1.8" fill="#fff" stroke="#000" stroke-width="1.0"/>
<circle cx="415.4" cy="611.8" r="1.8" fill="#fff" stroke="#000" stroke-width="1.0"/>
<circle cx="425.7" cy="607.6" r="1.8" fill="#fff" stroke="#000" stroke-width="1.0"/>
<circle cx="427.6" cy="611.8" r="1.8" fill="#fff" stroke="#000" stroke-width="1.0"/>
<circle cx="429.9" cy="613.7" r="1.8" fill="#fff" stroke="#000" stroke-width="1.0"/>
<circle cx="425.7" cy="615.4" r="1.8" fill="#fff" stroke="#000" stroke-width="1.0"/>
<circle cx="428.5" cy="620.1" r="1.8" fill="#fff" stroke="#000" stroke-width="1.0"/>
<circle cx="427.6" cy="627" r="1.8" fill="#fff" stroke="#000" stroke-width="1.0"/>
<line x1="413.2" y1="552.7" x2="431.2" y2="552.7" stroke="#111" stroke-width="0.9"/>
<text transform="translate(409.1 550) scale(0.9 1)" font-size="7.22" fill="#222"><tspan font-style="italic">P</tspan> = 0.0053</text>
<text transform="translate(386.4 645.6) rotate(-45) scale(0.9 1)" font-size="8.67" text-anchor="end">EV</text>
<text transform="translate(399.3 645.6) rotate(-45) scale(0.9 1)" font-size="8.67" text-anchor="end">LPCAT3</text>
<text transform="translate(420.3 645.6) rotate(-45) scale(0.9 1)" font-size="8.67" text-anchor="end">EV</text>
<text transform="translate(432.5 645.6) rotate(-45) scale(0.9 1)" font-size="8.67" text-anchor="end">LPCAT3</text>
<text transform="translate(488.6 531.9) scale(0.9 1)" font-size="8.89" text-anchor="middle" font-style="italic">Mrc1</text>
<line x1="457.4" y1="544.3" x2="457.4" y2="636.1" stroke="#8a8a8a" stroke-width="0.95"/>
<line x1="454.4" y1="544.3" x2="457.4" y2="544.3" stroke="#8a8a8a" stroke-width="0.95"/>
<text transform="translate(450.8 547.66) scale(0.9 1)" font-size="8.89" text-anchor="end">8</text>
<line x1="454.4" y1="567.25" x2="457.4" y2="567.25" stroke="#8a8a8a" stroke-width="0.95"/>
<text transform="translate(450.8 570.61) scale(0.9 1)" font-size="8.89" text-anchor="end">6</text>
<line x1="454.4" y1="590.2" x2="457.4" y2="590.2" stroke="#8a8a8a" stroke-width="0.95"/>
<text transform="translate(450.8 593.56) scale(0.9 1)" font-size="8.89" text-anchor="end">4</text>
<line x1="454.4" y1="613.15" x2="457.4" y2="613.15" stroke="#8a8a8a" stroke-width="0.95"/>
<text transform="translate(450.8 616.51) scale(0.9 1)" font-size="8.89" text-anchor="end">2</text>
<line x1="454.4" y1="636.1" x2="457.4" y2="636.1" stroke="#8a8a8a" stroke-width="0.95"/>
<text transform="translate(450.8 639.46) scale(0.9 1)" font-size="8.89" text-anchor="end">0</text>
<rect x="461.8" y="624.05" width="7.5" height="12.05" fill="#000"/>
<rect x="474.3" y="626.35" width="7.4" height="9.75" fill="#000"/>
<rect x="494.6" y="582.51" width="7.9" height="53.59" fill="#ff2600"/>
<rect x="507" y="607.41" width="8" height="28.69" fill="#ff2600"/>
<line x1="457.4" y1="636.1" x2="518.9" y2="636.1" stroke="#8a8a8a" stroke-width="0.95"/>
<line x1="465.5" y1="636.1" x2="465.5" y2="639.1" stroke="#8a8a8a" stroke-width="0.95"/>
<line x1="478" y1="636.1" x2="478" y2="639.1" stroke="#8a8a8a" stroke-width="0.95"/>
<line x1="498.5" y1="636.1" x2="498.5" y2="639.1" stroke="#8a8a8a" stroke-width="0.95"/>
<line x1="511" y1="636.1" x2="511" y2="639.1" stroke="#8a8a8a" stroke-width="0.95"/>
<line x1="465.5" y1="621.18" x2="465.5" y2="626.92" stroke="#000" stroke-width="0.75"/>
<line x1="463.5" y1="621.18" x2="467.5" y2="621.18" stroke="#000" stroke-width="0.75"/>
<line x1="463.5" y1="626.92" x2="467.5" y2="626.92" stroke="#000" stroke-width="0.75"/>
<line x1="498.5" y1="577.58" x2="498.5" y2="587.9" stroke="#000" stroke-width="0.75"/>
<line x1="496.5" y1="577.58" x2="500.5" y2="577.58" stroke="#000" stroke-width="0.75"/>
<line x1="496.5" y1="587.9" x2="500.5" y2="587.9" stroke="#000" stroke-width="0.75"/>
<line x1="511" y1="604.54" x2="511" y2="610.28" stroke="#000" stroke-width="0.75"/>
<line x1="509" y1="604.54" x2="513" y2="604.54" stroke="#000" stroke-width="0.75"/>
<line x1="509" y1="610.28" x2="513" y2="610.28" stroke="#000" stroke-width="0.75"/>
<circle cx="464.8" cy="618.7" r="1.8" fill="#fff" stroke="#000" stroke-width="1.0"/>
<circle cx="463.6" cy="621.7" r="1.8" fill="#fff" stroke="#000" stroke-width="1.0"/>
<circle cx="467.8" cy="624.2" r="1.8" fill="#fff" stroke="#000" stroke-width="1.0"/>
<circle cx="465.6" cy="630.4" r="1.8" fill="#fff" stroke="#000" stroke-width="1.0"/>
<circle cx="476.7" cy="624.7" r="1.8" fill="#fff" stroke="#000" stroke-width="1.0"/>
<circle cx="479.7" cy="626.2" r="1.8" fill="#fff" stroke="#000" stroke-width="1.0"/>
<circle cx="478" cy="625" r="1.8" fill="#fff" stroke="#000" stroke-width="1.0"/>
<circle cx="498.3" cy="566.6" r="1.8" fill="#fff" stroke="#000" stroke-width="1.0"/>
<circle cx="498.3" cy="571.6" r="1.8" fill="#fff" stroke="#000" stroke-width="1.0"/>
<circle cx="496.6" cy="584.5" r="1.8" fill="#fff" stroke="#000" stroke-width="1.0"/>
<circle cx="500.8" cy="584.5" r="1.8" fill="#fff" stroke="#000" stroke-width="1.0"/>
<circle cx="498.3" cy="592" r="1.8" fill="#fff" stroke="#000" stroke-width="1.0"/>
<circle cx="498.3" cy="595.7" r="1.8" fill="#fff" stroke="#000" stroke-width="1.0"/>
<circle cx="512.5" cy="602.4" r="1.8" fill="#fff" stroke="#000" stroke-width="1.0"/>
<circle cx="508.3" cy="606.3" r="1.8" fill="#fff" stroke="#000" stroke-width="1.0"/>
<circle cx="512" cy="607" r="1.8" fill="#fff" stroke="#000" stroke-width="1.0"/>
<circle cx="508.3" cy="613.8" r="1.8" fill="#fff" stroke="#000" stroke-width="1.0"/>
<circle cx="513.2" cy="610.6" r="1.8" fill="#fff" stroke="#000" stroke-width="1.0"/>
<line x1="497.1" y1="557.7" x2="515.7" y2="557.7" stroke="#111" stroke-width="0.9"/>
<text transform="translate(493.4 555.8) scale(0.9 1)" font-size="7.22" fill="#222"><tspan font-style="italic">P</tspan> = 0.0004</text>
<rect x="539.3" y="547.3" width="10.7" height="6.7" fill="#000"/>
<text transform="translate(552.9 554.2) scale(0.9 1)" font-size="8.89">Ctrl</text>
<rect x="539.3" y="559.7" width="10.7" height="6.7" fill="#ff2600"/>
<text transform="translate(552.9 566.5) scale(0.9 1)" font-size="8.89">CM</text>
<text transform="translate(470.5 645.6) rotate(-45) scale(0.9 1)" font-size="8.67" text-anchor="end">EV</text>
<text transform="translate(483 645.6) rotate(-45) scale(0.9 1)" font-size="8.67" text-anchor="end">LPCAT3</text>
<text transform="translate(503.5 645.6) rotate(-45) scale(0.9 1)" font-size="8.67" text-anchor="end">EV</text>
<text transform="translate(516 645.6) rotate(-45) scale(0.9 1)" font-size="8.67" text-anchor="end">LPCAT3</text>
</svg>
</body></html>
